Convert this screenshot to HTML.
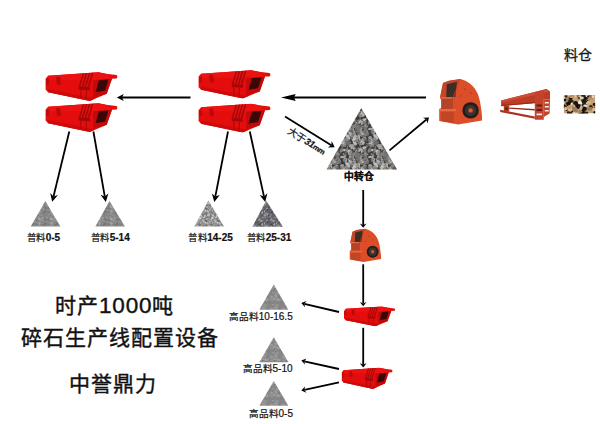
<!DOCTYPE html>
<html lang="zh-CN"><head><meta charset="utf-8">
<style>
html,body{margin:0;padding:0;background:#fff;}
body{width:600px;height:424px;position:relative;overflow:hidden;font-family:"Liberation Sans",sans-serif;color:#1a1a1a;}
svg{position:absolute;left:0;top:0;}
line{stroke:#000;stroke-width:1.8;}
.ah{fill:#000;}
.t{position:absolute;white-space:nowrap;line-height:1;}
.lb{font-size:10px;color:#111;-webkit-text-stroke:0.2px #111;}
.lb b{font-weight:normal;font-size:9.6px;}
.bb{font-weight:bold;}
.bb b{font-size:9.4px;letter-spacing:0.6px;}
.big{font-size:21px;color:#111;letter-spacing:1px;-webkit-text-stroke:0.4px #111;}
</style></head><body>
<svg width="600" height="424" viewBox="0 0 600 424">
<defs>
<symbol id="scr" viewBox="0 0 72 28" preserveAspectRatio="none">
<path d="M3,3.6L53,0.3L60.5,1.7L71,3L72.3,4.5L71.2,6.3L66.5,6.5L61.3,21L44.5,28L3,19.5L0.6,17L0.6,6.5Z" fill="#e40c0c"/>
<path d="M3,3.6L53,0.3L60.5,1.7L66.5,6.5L50,7.5L4,8Z" fill="#ec1212"/>
<path d="M3,19.5L44.5,28L50,25.5L44,24.5L3,16.5Z" fill="#cc0a0a"/>
<path d="M48,8L66.5,6.5L61.3,21L48,25Z" fill="#c20a0a"/>
<path d="M53.5,8L63,7.2L59.8,17.8L50.3,19.5Z" fill="#3c0606"/>
<path d="M37.5,1.5L39,1.4L35,13.8L33.5,13.8Z M40.5,1.3L42,1.2L38,13.9L36.5,13.9Z M43.5,1.1L45,1L41,14L39.5,14Z M46.5,0.9L48,0.8L44,14L42.5,14Z" fill="#a00808"/>
<path d="M33.5,13.8L44.5,14.5L44.5,17.5L33.5,16.8Z" fill="#a00808"/>
<path d="M35,17L36.2,17L36.2,25L35,24.7Z M40.5,17.5L41.7,17.5L41.7,26.3L40.5,26Z" fill="#b00808"/>
<path d="M11,5L15,4.8L16,12L12,12.2Z" fill="#b80a0a"/>
<path d="M1,7L4,6.5L4,12L1,12.5Z" fill="#c00a0a"/>
</symbol>
<symbol id="cru" viewBox="0 0 50 50" preserveAspectRatio="none">
<path d="M3.2,45L3.2,33L5.3,32L5.3,23.6L4.1,22.4L4.1,21.2L7,7L13,4.7L24.6,3C32,5 38.5,10 41.8,18C43.8,23 44.8,29 45.5,35.4L46,40L46,44.5L22,48.5Z" fill="#dc4e2a"/>
<path d="M7,7L13,4.7L24.2,3L15.9,22.4L4.1,22.4L4.1,21.2Z" fill="#c4462a"/>
<path d="M10.8,8.2L21,5.8L19.3,21L10.2,21Z" fill="#3e2c26"/>
<path d="M4.1,21.2L17.7,21.2L17.7,22.8L4.1,22.8Z" fill="#e8693e"/>
<path d="M5.3,22.8L16.2,22.8L16.5,33L5.3,33Z" fill="#b44428"/>
<path d="M3.5,33L20,33L20,35L3.5,35Z" fill="#e86a40"/>
<path d="M5,36L18,36L18,47L5,45Z" fill="#c04626"/>
<path d="M24.6,3L17,22.4L17,33L15.9,33L15.9,22.4Z" fill="#b84424"/>
<circle cx="34.6" cy="34.4" r="8.2" fill="#221d1b"/>
<circle cx="34.6" cy="34.4" r="5.6" fill="#3a3331"/>
<circle cx="34.6" cy="34.4" r="2.2" fill="#dc5830"/>
<circle cx="29" cy="13" r="0.8" fill="#a83a20"/><circle cx="35" cy="17" r="0.8" fill="#a83a20"/><circle cx="25" cy="20" r="0.8" fill="#a83a20"/>
</symbol>
<symbol id="fed" viewBox="0 0 58 38" preserveAspectRatio="none">
<path d="M4.1,16.6L49.5,4.9L53,7.6L53,15.2L46.8,15.2L37.8,19L4.1,22Z" fill="#bc3c26"/>
<path d="M4.1,16.6L49.5,4.9L53,7.6L6,18.2Z" fill="#cc4c34"/>
<path d="M4.1,21L37.8,18L37.8,19.3L4.1,22.2Z" fill="#962c1c"/>
<path d="M37.8,8.4L46.8,6.2L46.8,35.8L37.8,35.8Z" fill="#c2422a"/>
<path d="M46.8,15.2L53,15.2L52.6,29.5L46.8,33Z" fill="#c4442a"/>
<path d="M39.5,20.5h5.5v2h-5.5Z M39.5,25h5.5v2h-5.5Z" fill="#5a2018"/>
<path d="M39.5,29.5h5.5v1.8h-5.5Z M47.8,18h4v1.6h-4Z M47.8,22h4v1.6h-4Z M47.8,26h4v1.6h-4Z" fill="#f6eeea"/>
<path d="M6.8,22L12.2,21.6L12.2,27.8L6.8,27.2Z" fill="#b03a24"/>
<path d="M8.3,23.3h2.4v2.6h-2.4Z" fill="#5a2018"/>
<path d="M12.2,23.5L37.8,25L37.8,26.4L12.2,24.8Z" fill="#8e2c1c"/>
<path d="M3.2,25.8L37.8,32.4L37.8,34.8L3.2,28Z" fill="#a83422"/>
</symbol>
<pattern id="pg1" width="12" height="12" patternUnits="userSpaceOnUse"><rect width="12" height="12" fill="#848484"/><ellipse cx="1.6" cy="10.2" rx="1.5" ry="0.7" fill="#a4a4a4" transform="rotate(126 1.6 10.2)"/><ellipse cx="13.6" cy="10.2" rx="1.5" ry="0.7" fill="#a4a4a4" transform="rotate(126 13.6 10.2)"/><ellipse cx="5.7" cy="4.6" rx="0.9" ry="0.5" fill="#a4a4a4" transform="rotate(99 5.7 4.6)"/><ellipse cx="7.3" cy="9.2" rx="1.4" ry="0.7" fill="#7a7a7a" transform="rotate(58 7.3 9.2)"/><ellipse cx="-0.7" cy="-1.2" rx="0.6" ry="0.2" fill="#959595" transform="rotate(138 -0.7 -1.2)"/><ellipse cx="-0.7" cy="10.8" rx="0.6" ry="0.2" fill="#959595" transform="rotate(138 -0.7 10.8)"/><ellipse cx="11.3" cy="-1.2" rx="0.6" ry="0.2" fill="#959595" transform="rotate(138 11.3 -1.2)"/><ellipse cx="11.3" cy="10.8" rx="0.6" ry="0.2" fill="#959595" transform="rotate(138 11.3 10.8)"/><ellipse cx="-0.7" cy="4.6" rx="0.9" ry="0.5" fill="#7a7a7a" transform="rotate(7 -0.7 4.6)"/><ellipse cx="11.3" cy="4.6" rx="0.9" ry="0.5" fill="#7a7a7a" transform="rotate(7 11.3 4.6)"/><ellipse cx="2.7" cy="5.3" rx="1.2" ry="0.5" fill="#6e6e6e" transform="rotate(59 2.7 5.3)"/><ellipse cx="2.6" cy="5.5" rx="0.9" ry="0.3" fill="#6e6e6e" transform="rotate(142 2.6 5.5)"/><ellipse cx="1.2" cy="7.6" rx="1.5" ry="0.7" fill="#6e6e6e" transform="rotate(85 1.2 7.6)"/><ellipse cx="13.2" cy="7.6" rx="1.5" ry="0.7" fill="#6e6e6e" transform="rotate(85 13.2 7.6)"/><ellipse cx="-0.3" cy="6.0" rx="1.8" ry="1.1" fill="#9c9c9c" transform="rotate(171 -0.3 6.0)"/><ellipse cx="11.7" cy="6.0" rx="1.8" ry="1.1" fill="#9c9c9c" transform="rotate(171 11.7 6.0)"/><ellipse cx="3.6" cy="7.1" rx="1.7" ry="1.4" fill="#a4a4a4" transform="rotate(129 3.6 7.1)"/><ellipse cx="7.1" cy="0.4" rx="0.9" ry="0.7" fill="#6e6e6e" transform="rotate(106 7.1 0.4)"/><ellipse cx="7.1" cy="12.4" rx="0.9" ry="0.7" fill="#6e6e6e" transform="rotate(106 7.1 12.4)"/><ellipse cx="2.1" cy="6.6" rx="1.4" ry="1.1" fill="#959595" transform="rotate(95 2.1 6.6)"/><ellipse cx="5.3" cy="6.1" rx="1.5" ry="1.0" fill="#8a8a8a" transform="rotate(100 5.3 6.1)"/><ellipse cx="5.9" cy="0.4" rx="0.7" ry="0.5" fill="#7a7a7a" transform="rotate(157 5.9 0.4)"/><ellipse cx="5.9" cy="12.4" rx="0.7" ry="0.5" fill="#7a7a7a" transform="rotate(157 5.9 12.4)"/><ellipse cx="6.9" cy="7.8" rx="0.8" ry="0.4" fill="#9c9c9c" transform="rotate(3 6.9 7.8)"/><ellipse cx="6.5" cy="-1.7" rx="0.9" ry="0.6" fill="#8a8a8a" transform="rotate(147 6.5 -1.7)"/><ellipse cx="6.5" cy="10.3" rx="0.9" ry="0.6" fill="#8a8a8a" transform="rotate(147 6.5 10.3)"/><ellipse cx="5.5" cy="3.2" rx="1.3" ry="1.2" fill="#a4a4a4" transform="rotate(1 5.5 3.2)"/><ellipse cx="9.4" cy="9.8" rx="1.7" ry="1.3" fill="#7a7a7a" transform="rotate(33 9.4 9.8)"/><ellipse cx="9.3" cy="2.5" rx="1.7" ry="1.1" fill="#7a7a7a" transform="rotate(93 9.3 2.5)"/><ellipse cx="6.7" cy="-0.7" rx="1.1" ry="0.9" fill="#8a8a8a" transform="rotate(106 6.7 -0.7)"/><ellipse cx="6.7" cy="11.3" rx="1.1" ry="0.9" fill="#8a8a8a" transform="rotate(106 6.7 11.3)"/><ellipse cx="0.0" cy="6.5" rx="1.5" ry="0.8" fill="#959595" transform="rotate(153 0.0 6.5)"/><ellipse cx="12.0" cy="6.5" rx="1.5" ry="0.8" fill="#959595" transform="rotate(153 12.0 6.5)"/><ellipse cx="9.7" cy="7.6" rx="1.3" ry="0.5" fill="#7a7a7a" transform="rotate(23 9.7 7.6)"/><ellipse cx="9.6" cy="9.8" rx="0.9" ry="0.8" fill="#959595" transform="rotate(172 9.6 9.8)"/><ellipse cx="1.0" cy="0.2" rx="0.6" ry="0.5" fill="#8a8a8a" transform="rotate(63 1.0 0.2)"/><ellipse cx="1.0" cy="12.2" rx="0.6" ry="0.5" fill="#8a8a8a" transform="rotate(63 1.0 12.2)"/><ellipse cx="13.0" cy="0.2" rx="0.6" ry="0.5" fill="#8a8a8a" transform="rotate(63 13.0 0.2)"/><ellipse cx="13.0" cy="12.2" rx="0.6" ry="0.5" fill="#8a8a8a" transform="rotate(63 13.0 12.2)"/><ellipse cx="1.3" cy="7.5" rx="1.0" ry="0.3" fill="#8a8a8a" transform="rotate(40 1.3 7.5)"/><ellipse cx="13.3" cy="7.5" rx="1.0" ry="0.3" fill="#8a8a8a" transform="rotate(40 13.3 7.5)"/><ellipse cx="6.3" cy="2.0" rx="0.9" ry="0.7" fill="#6e6e6e" transform="rotate(116 6.3 2.0)"/><ellipse cx="3.9" cy="5.7" rx="0.6" ry="0.3" fill="#9c9c9c" transform="rotate(107 3.9 5.7)"/><ellipse cx="3.1" cy="3.0" rx="1.5" ry="1.4" fill="#a4a4a4" transform="rotate(155 3.1 3.0)"/><ellipse cx="9.8" cy="0.2" rx="0.6" ry="0.2" fill="#a4a4a4" transform="rotate(41 9.8 0.2)"/><ellipse cx="9.8" cy="12.2" rx="0.6" ry="0.2" fill="#a4a4a4" transform="rotate(41 9.8 12.2)"/><ellipse cx="8.5" cy="8.1" rx="1.3" ry="0.6" fill="#6e6e6e" transform="rotate(161 8.5 8.1)"/><ellipse cx="6.2" cy="2.7" rx="1.4" ry="0.8" fill="#8a8a8a" transform="rotate(147 6.2 2.7)"/><ellipse cx="7.9" cy="5.1" rx="1.5" ry="0.6" fill="#959595" transform="rotate(54 7.9 5.1)"/><ellipse cx="3.7" cy="-1.7" rx="1.0" ry="0.9" fill="#a4a4a4" transform="rotate(40 3.7 -1.7)"/><ellipse cx="3.7" cy="10.3" rx="1.0" ry="0.9" fill="#a4a4a4" transform="rotate(40 3.7 10.3)"/><ellipse cx="6.8" cy="1.6" rx="1.3" ry="1.1" fill="#9c9c9c" transform="rotate(151 6.8 1.6)"/><ellipse cx="6.8" cy="13.6" rx="1.3" ry="1.1" fill="#9c9c9c" transform="rotate(151 6.8 13.6)"/><ellipse cx="-0.5" cy="6.8" rx="0.8" ry="0.7" fill="#7a7a7a" transform="rotate(159 -0.5 6.8)"/><ellipse cx="11.5" cy="6.8" rx="0.8" ry="0.7" fill="#7a7a7a" transform="rotate(159 11.5 6.8)"/><ellipse cx="0.4" cy="2.4" rx="0.7" ry="0.5" fill="#7a7a7a" transform="rotate(110 0.4 2.4)"/><ellipse cx="12.4" cy="2.4" rx="0.7" ry="0.5" fill="#7a7a7a" transform="rotate(110 12.4 2.4)"/><ellipse cx="2.3" cy="1.3" rx="1.4" ry="0.7" fill="#959595" transform="rotate(127 2.3 1.3)"/><ellipse cx="2.3" cy="13.3" rx="1.4" ry="0.7" fill="#959595" transform="rotate(127 2.3 13.3)"/><ellipse cx="3.9" cy="-1.5" rx="1.7" ry="0.5" fill="#8a8a8a" transform="rotate(51 3.9 -1.5)"/><ellipse cx="3.9" cy="10.5" rx="1.7" ry="0.5" fill="#8a8a8a" transform="rotate(51 3.9 10.5)"/><ellipse cx="9.7" cy="6.8" rx="0.8" ry="0.4" fill="#6e6e6e" transform="rotate(68 9.7 6.8)"/><ellipse cx="1.2" cy="4.6" rx="1.3" ry="1.1" fill="#7a7a7a" transform="rotate(175 1.2 4.6)"/><ellipse cx="13.2" cy="4.6" rx="1.3" ry="1.1" fill="#7a7a7a" transform="rotate(175 13.2 4.6)"/><ellipse cx="5.8" cy="-0.2" rx="0.9" ry="0.7" fill="#9c9c9c" transform="rotate(21 5.8 -0.2)"/><ellipse cx="5.8" cy="11.8" rx="0.9" ry="0.7" fill="#9c9c9c" transform="rotate(21 5.8 11.8)"/><ellipse cx="2.0" cy="-1.1" rx="0.9" ry="0.7" fill="#7a7a7a" transform="rotate(153 2.0 -1.1)"/><ellipse cx="2.0" cy="10.9" rx="0.9" ry="0.7" fill="#7a7a7a" transform="rotate(153 2.0 10.9)"/><ellipse cx="10.1" cy="4.4" rx="1.0" ry="0.5" fill="#6e6e6e" transform="rotate(154 10.1 4.4)"/><ellipse cx="-1.4" cy="1.6" rx="1.3" ry="0.5" fill="#a4a4a4" transform="rotate(10 -1.4 1.6)"/><ellipse cx="-1.4" cy="13.6" rx="1.3" ry="0.5" fill="#a4a4a4" transform="rotate(10 -1.4 13.6)"/><ellipse cx="10.6" cy="1.6" rx="1.3" ry="0.5" fill="#a4a4a4" transform="rotate(10 10.6 1.6)"/><ellipse cx="10.6" cy="13.6" rx="1.3" ry="0.5" fill="#a4a4a4" transform="rotate(10 10.6 13.6)"/></pattern><pattern id="pg3" width="12" height="12" patternUnits="userSpaceOnUse"><rect width="12" height="12" fill="#8c8c8c"/><ellipse cx="2.9" cy="6.5" rx="0.7" ry="0.5" fill="#d8d8d8" transform="rotate(160 2.9 6.5)"/><ellipse cx="0.8" cy="0.2" rx="1.1" ry="0.7" fill="#c8c8c8" transform="rotate(59 0.8 0.2)"/><ellipse cx="0.8" cy="12.2" rx="1.1" ry="0.7" fill="#c8c8c8" transform="rotate(59 0.8 12.2)"/><ellipse cx="12.8" cy="0.2" rx="1.1" ry="0.7" fill="#c8c8c8" transform="rotate(59 12.8 0.2)"/><ellipse cx="12.8" cy="12.2" rx="1.1" ry="0.7" fill="#c8c8c8" transform="rotate(59 12.8 12.2)"/><ellipse cx="-0.1" cy="5.6" rx="1.1" ry="0.8" fill="#c8c8c8" transform="rotate(163 -0.1 5.6)"/><ellipse cx="11.9" cy="5.6" rx="1.1" ry="0.8" fill="#c8c8c8" transform="rotate(163 11.9 5.6)"/><ellipse cx="2.8" cy="1.8" rx="1.1" ry="0.8" fill="#5a5a5a" transform="rotate(3 2.8 1.8)"/><ellipse cx="9.3" cy="1.9" rx="1.2" ry="0.6" fill="#9a9a9a" transform="rotate(7 9.3 1.9)"/><ellipse cx="5.7" cy="8.6" rx="1.1" ry="0.9" fill="#727272" transform="rotate(109 5.7 8.6)"/><ellipse cx="8.7" cy="6.9" rx="1.2" ry="0.7" fill="#b8b8b8" transform="rotate(93 8.7 6.9)"/><ellipse cx="0.4" cy="5.9" rx="0.6" ry="0.5" fill="#9a9a9a" transform="rotate(160 0.4 5.9)"/><ellipse cx="12.4" cy="5.9" rx="0.6" ry="0.5" fill="#9a9a9a" transform="rotate(160 12.4 5.9)"/><ellipse cx="5.1" cy="10.0" rx="0.9" ry="0.6" fill="#d8d8d8" transform="rotate(104 5.1 10.0)"/><ellipse cx="2.8" cy="4.0" rx="1.1" ry="0.6" fill="#d8d8d8" transform="rotate(71 2.8 4.0)"/><ellipse cx="8.1" cy="2.0" rx="1.1" ry="1.0" fill="#d8d8d8" transform="rotate(146 8.1 2.0)"/><ellipse cx="1.2" cy="7.9" rx="0.9" ry="0.9" fill="#9a9a9a" transform="rotate(68 1.2 7.9)"/><ellipse cx="1.5" cy="5.8" rx="0.9" ry="0.7" fill="#b8b8b8" transform="rotate(88 1.5 5.8)"/><ellipse cx="4.9" cy="1.8" rx="0.6" ry="0.5" fill="#b8b8b8" transform="rotate(30 4.9 1.8)"/><ellipse cx="7.3" cy="9.1" rx="0.7" ry="0.5" fill="#9a9a9a" transform="rotate(141 7.3 9.1)"/><ellipse cx="6.1" cy="-0.0" rx="0.6" ry="0.3" fill="#d8d8d8" transform="rotate(153 6.1 -0.0)"/><ellipse cx="6.1" cy="12.0" rx="0.6" ry="0.3" fill="#d8d8d8" transform="rotate(153 6.1 12.0)"/><ellipse cx="0.4" cy="2.4" rx="0.7" ry="0.6" fill="#5a5a5a" transform="rotate(39 0.4 2.4)"/><ellipse cx="12.4" cy="2.4" rx="0.7" ry="0.6" fill="#5a5a5a" transform="rotate(39 12.4 2.4)"/><ellipse cx="0.5" cy="10.4" rx="0.7" ry="0.6" fill="#727272" transform="rotate(96 0.5 10.4)"/><ellipse cx="12.5" cy="10.4" rx="0.7" ry="0.6" fill="#727272" transform="rotate(96 12.5 10.4)"/><ellipse cx="5.5" cy="6.2" rx="0.9" ry="0.7" fill="#b8b8b8" transform="rotate(143 5.5 6.2)"/><ellipse cx="7.4" cy="-0.7" rx="0.8" ry="0.6" fill="#9a9a9a" transform="rotate(60 7.4 -0.7)"/><ellipse cx="7.4" cy="11.3" rx="0.8" ry="0.6" fill="#9a9a9a" transform="rotate(60 7.4 11.3)"/><ellipse cx="5.2" cy="3.1" rx="0.6" ry="0.4" fill="#d8d8d8" transform="rotate(106 5.2 3.1)"/><ellipse cx="3.8" cy="4.5" rx="0.9" ry="0.5" fill="#5a5a5a" transform="rotate(162 3.8 4.5)"/><ellipse cx="4.0" cy="4.2" rx="1.1" ry="0.9" fill="#5a5a5a" transform="rotate(71 4.0 4.2)"/><ellipse cx="5.9" cy="7.1" rx="1.2" ry="0.6" fill="#9a9a9a" transform="rotate(94 5.9 7.1)"/><ellipse cx="7.5" cy="3.6" rx="0.9" ry="0.5" fill="#9a9a9a" transform="rotate(47 7.5 3.6)"/><ellipse cx="9.1" cy="10.1" rx="0.6" ry="0.5" fill="#b8b8b8" transform="rotate(26 9.1 10.1)"/><ellipse cx="-0.3" cy="8.2" rx="0.5" ry="0.4" fill="#9a9a9a" transform="rotate(167 -0.3 8.2)"/><ellipse cx="11.7" cy="8.2" rx="0.5" ry="0.4" fill="#9a9a9a" transform="rotate(167 11.7 8.2)"/><ellipse cx="2.9" cy="2.2" rx="0.7" ry="0.6" fill="#d8d8d8" transform="rotate(26 2.9 2.2)"/><ellipse cx="3.9" cy="4.0" rx="1.1" ry="0.7" fill="#b8b8b8" transform="rotate(43 3.9 4.0)"/><ellipse cx="4.0" cy="7.8" rx="1.1" ry="0.8" fill="#b8b8b8" transform="rotate(57 4.0 7.8)"/><ellipse cx="0.4" cy="-0.5" rx="0.7" ry="0.6" fill="#c8c8c8" transform="rotate(147 0.4 -0.5)"/><ellipse cx="0.4" cy="11.5" rx="0.7" ry="0.6" fill="#c8c8c8" transform="rotate(147 0.4 11.5)"/><ellipse cx="12.4" cy="-0.5" rx="0.7" ry="0.6" fill="#c8c8c8" transform="rotate(147 12.4 -0.5)"/><ellipse cx="12.4" cy="11.5" rx="0.7" ry="0.6" fill="#c8c8c8" transform="rotate(147 12.4 11.5)"/><ellipse cx="10.4" cy="4.1" rx="1.1" ry="0.6" fill="#9a9a9a" transform="rotate(158 10.4 4.1)"/><ellipse cx="7.1" cy="5.1" rx="0.8" ry="0.7" fill="#9a9a9a" transform="rotate(118 7.1 5.1)"/><ellipse cx="7.6" cy="3.5" rx="0.9" ry="0.4" fill="#c8c8c8" transform="rotate(105 7.6 3.5)"/><ellipse cx="2.4" cy="5.7" rx="1.1" ry="0.8" fill="#727272" transform="rotate(130 2.4 5.7)"/><ellipse cx="6.7" cy="-0.2" rx="1.0" ry="0.5" fill="#5a5a5a" transform="rotate(116 6.7 -0.2)"/><ellipse cx="6.7" cy="11.8" rx="1.0" ry="0.5" fill="#5a5a5a" transform="rotate(116 6.7 11.8)"/><ellipse cx="9.0" cy="-0.4" rx="0.8" ry="0.8" fill="#d8d8d8" transform="rotate(17 9.0 -0.4)"/><ellipse cx="9.0" cy="11.6" rx="0.8" ry="0.8" fill="#d8d8d8" transform="rotate(17 9.0 11.6)"/><ellipse cx="-0.3" cy="1.4" rx="0.6" ry="0.3" fill="#d8d8d8" transform="rotate(177 -0.3 1.4)"/><ellipse cx="11.7" cy="1.4" rx="0.6" ry="0.3" fill="#d8d8d8" transform="rotate(177 11.7 1.4)"/><ellipse cx="-0.9" cy="10.8" rx="1.1" ry="0.9" fill="#727272" transform="rotate(3 -0.9 10.8)"/><ellipse cx="11.1" cy="10.8" rx="1.1" ry="0.9" fill="#727272" transform="rotate(3 11.1 10.8)"/><ellipse cx="8.9" cy="2.1" rx="0.6" ry="0.5" fill="#d8d8d8" transform="rotate(134 8.9 2.1)"/><ellipse cx="5.0" cy="-0.7" rx="0.9" ry="0.6" fill="#d8d8d8" transform="rotate(64 5.0 -0.7)"/><ellipse cx="5.0" cy="11.3" rx="0.9" ry="0.6" fill="#d8d8d8" transform="rotate(64 5.0 11.3)"/><ellipse cx="5.7" cy="9.4" rx="0.7" ry="0.4" fill="#b8b8b8" transform="rotate(136 5.7 9.4)"/><ellipse cx="2.1" cy="9.5" rx="1.1" ry="1.0" fill="#727272" transform="rotate(1 2.1 9.5)"/><ellipse cx="7.5" cy="10.4" rx="0.4" ry="0.3" fill="#d8d8d8" transform="rotate(68 7.5 10.4)"/><ellipse cx="6.3" cy="5.1" rx="0.8" ry="0.7" fill="#b8b8b8" transform="rotate(0 6.3 5.1)"/><ellipse cx="9.3" cy="0.6" rx="0.4" ry="0.3" fill="#5a5a5a" transform="rotate(8 9.3 0.6)"/><ellipse cx="9.3" cy="12.6" rx="0.4" ry="0.3" fill="#5a5a5a" transform="rotate(8 9.3 12.6)"/><ellipse cx="1.0" cy="6.0" rx="0.7" ry="0.4" fill="#727272" transform="rotate(89 1.0 6.0)"/><ellipse cx="13.0" cy="6.0" rx="0.7" ry="0.4" fill="#727272" transform="rotate(89 13.0 6.0)"/><ellipse cx="7.8" cy="7.0" rx="0.7" ry="0.4" fill="#727272" transform="rotate(84 7.8 7.0)"/><ellipse cx="1.5" cy="6.7" rx="1.0" ry="0.7" fill="#d8d8d8" transform="rotate(20 1.5 6.7)"/><ellipse cx="2.1" cy="4.5" rx="0.9" ry="0.8" fill="#5a5a5a" transform="rotate(97 2.1 4.5)"/><ellipse cx="9.6" cy="7.5" rx="0.7" ry="0.5" fill="#5a5a5a" transform="rotate(127 9.6 7.5)"/><ellipse cx="3.8" cy="-0.6" rx="0.7" ry="0.4" fill="#d8d8d8" transform="rotate(55 3.8 -0.6)"/><ellipse cx="3.8" cy="11.4" rx="0.7" ry="0.4" fill="#d8d8d8" transform="rotate(55 3.8 11.4)"/><ellipse cx="3.2" cy="7.1" rx="1.0" ry="0.6" fill="#b8b8b8" transform="rotate(33 3.2 7.1)"/><ellipse cx="-0.8" cy="4.5" rx="1.1" ry="1.0" fill="#b8b8b8" transform="rotate(67 -0.8 4.5)"/><ellipse cx="11.2" cy="4.5" rx="1.1" ry="1.0" fill="#b8b8b8" transform="rotate(67 11.2 4.5)"/><ellipse cx="5.6" cy="1.5" rx="1.1" ry="0.8" fill="#727272" transform="rotate(135 5.6 1.5)"/><ellipse cx="8.0" cy="8.8" rx="0.9" ry="0.5" fill="#5a5a5a" transform="rotate(150 8.0 8.8)"/><ellipse cx="0.1" cy="1.7" rx="1.0" ry="0.5" fill="#d8d8d8" transform="rotate(23 0.1 1.7)"/><ellipse cx="12.1" cy="1.7" rx="1.0" ry="0.5" fill="#d8d8d8" transform="rotate(23 12.1 1.7)"/><ellipse cx="1.2" cy="10.6" rx="0.5" ry="0.3" fill="#b8b8b8" transform="rotate(31 1.2 10.6)"/><ellipse cx="13.2" cy="10.6" rx="0.5" ry="0.3" fill="#b8b8b8" transform="rotate(31 13.2 10.6)"/><ellipse cx="10.1" cy="8.1" rx="1.1" ry="1.0" fill="#9a9a9a" transform="rotate(148 10.1 8.1)"/><ellipse cx="9.6" cy="0.4" rx="1.0" ry="0.7" fill="#b8b8b8" transform="rotate(61 9.6 0.4)"/><ellipse cx="9.6" cy="12.4" rx="1.0" ry="0.7" fill="#b8b8b8" transform="rotate(61 9.6 12.4)"/></pattern><pattern id="pg4" width="12" height="12" patternUnits="userSpaceOnUse"><rect width="12" height="12" fill="#606066"/><ellipse cx="2.8" cy="1.2" rx="0.7" ry="0.4" fill="#7c7c84" transform="rotate(17 2.8 1.2)"/><ellipse cx="4.8" cy="-1.0" rx="1.0" ry="0.9" fill="#444448" transform="rotate(56 4.8 -1.0)"/><ellipse cx="4.8" cy="11.0" rx="1.0" ry="0.9" fill="#444448" transform="rotate(56 4.8 11.0)"/><ellipse cx="6.4" cy="3.3" rx="0.5" ry="0.3" fill="#7c7c84" transform="rotate(54 6.4 3.3)"/><ellipse cx="9.9" cy="9.7" rx="1.0" ry="0.6" fill="#66666c" transform="rotate(79 9.9 9.7)"/><ellipse cx="7.5" cy="8.8" rx="1.1" ry="1.0" fill="#444448" transform="rotate(22 7.5 8.8)"/><ellipse cx="4.0" cy="4.7" rx="0.6" ry="0.4" fill="#7c7c84" transform="rotate(71 4.0 4.7)"/><ellipse cx="-0.7" cy="9.8" rx="1.2" ry="1.0" fill="#66666c" transform="rotate(1 -0.7 9.8)"/><ellipse cx="11.3" cy="9.8" rx="1.2" ry="1.0" fill="#66666c" transform="rotate(1 11.3 9.8)"/><ellipse cx="6.9" cy="10.6" rx="1.1" ry="0.8" fill="#9c9ca2" transform="rotate(105 6.9 10.6)"/><ellipse cx="7.2" cy="5.2" rx="0.5" ry="0.3" fill="#7c7c84" transform="rotate(11 7.2 5.2)"/><ellipse cx="0.6" cy="7.5" rx="0.6" ry="0.5" fill="#b4b4b8" transform="rotate(120 0.6 7.5)"/><ellipse cx="12.6" cy="7.5" rx="0.6" ry="0.5" fill="#b4b4b8" transform="rotate(120 12.6 7.5)"/><ellipse cx="4.1" cy="-0.0" rx="0.6" ry="0.4" fill="#b4b4b8" transform="rotate(51 4.1 -0.0)"/><ellipse cx="4.1" cy="12.0" rx="0.6" ry="0.4" fill="#b4b4b8" transform="rotate(51 4.1 12.0)"/><ellipse cx="7.6" cy="3.3" rx="0.7" ry="0.6" fill="#b4b4b8" transform="rotate(82 7.6 3.3)"/><ellipse cx="6.7" cy="-1.1" rx="0.5" ry="0.3" fill="#66666c" transform="rotate(58 6.7 -1.1)"/><ellipse cx="6.7" cy="10.9" rx="0.5" ry="0.3" fill="#66666c" transform="rotate(58 6.7 10.9)"/><ellipse cx="9.2" cy="7.4" rx="0.6" ry="0.4" fill="#66666c" transform="rotate(45 9.2 7.4)"/><ellipse cx="5.5" cy="0.5" rx="1.0" ry="0.9" fill="#b4b4b8" transform="rotate(73 5.5 0.5)"/><ellipse cx="5.5" cy="12.5" rx="1.0" ry="0.9" fill="#b4b4b8" transform="rotate(73 5.5 12.5)"/><ellipse cx="8.1" cy="3.9" rx="0.7" ry="0.4" fill="#b4b4b8" transform="rotate(39 8.1 3.9)"/><ellipse cx="4.9" cy="-0.7" rx="0.9" ry="0.8" fill="#444448" transform="rotate(75 4.9 -0.7)"/><ellipse cx="4.9" cy="11.3" rx="0.9" ry="0.8" fill="#444448" transform="rotate(75 4.9 11.3)"/><ellipse cx="2.3" cy="5.3" rx="0.5" ry="0.3" fill="#66666c" transform="rotate(40 2.3 5.3)"/><ellipse cx="6.9" cy="4.4" rx="0.8" ry="0.5" fill="#66666c" transform="rotate(92 6.9 4.4)"/><ellipse cx="6.9" cy="5.3" rx="0.6" ry="0.5" fill="#7c7c84" transform="rotate(29 6.9 5.3)"/><ellipse cx="0.7" cy="8.8" rx="0.9" ry="0.8" fill="#7c7c84" transform="rotate(155 0.7 8.8)"/><ellipse cx="12.7" cy="8.8" rx="0.9" ry="0.8" fill="#7c7c84" transform="rotate(155 12.7 8.8)"/><ellipse cx="6.6" cy="7.0" rx="0.7" ry="0.3" fill="#66666c" transform="rotate(135 6.6 7.0)"/><ellipse cx="9.3" cy="4.9" rx="1.2" ry="0.9" fill="#9c9ca2" transform="rotate(61 9.3 4.9)"/><ellipse cx="4.9" cy="0.4" rx="0.7" ry="0.5" fill="#8c8c92" transform="rotate(109 4.9 0.4)"/><ellipse cx="4.9" cy="12.4" rx="0.7" ry="0.5" fill="#8c8c92" transform="rotate(109 4.9 12.4)"/><ellipse cx="6.0" cy="0.4" rx="0.6" ry="0.4" fill="#8c8c92" transform="rotate(53 6.0 0.4)"/><ellipse cx="6.0" cy="12.4" rx="0.6" ry="0.4" fill="#8c8c92" transform="rotate(53 6.0 12.4)"/><ellipse cx="5.0" cy="3.1" rx="0.7" ry="0.6" fill="#444448" transform="rotate(80 5.0 3.1)"/><ellipse cx="1.4" cy="6.8" rx="1.2" ry="0.9" fill="#9c9ca2" transform="rotate(10 1.4 6.8)"/><ellipse cx="4.6" cy="5.2" rx="1.1" ry="0.9" fill="#66666c" transform="rotate(42 4.6 5.2)"/><ellipse cx="3.6" cy="5.7" rx="1.1" ry="0.7" fill="#444448" transform="rotate(107 3.6 5.7)"/><ellipse cx="2.6" cy="9.6" rx="1.0" ry="0.7" fill="#9c9ca2" transform="rotate(100 2.6 9.6)"/><ellipse cx="0.9" cy="-0.3" rx="1.2" ry="0.9" fill="#9c9ca2" transform="rotate(11 0.9 -0.3)"/><ellipse cx="0.9" cy="11.7" rx="1.2" ry="0.9" fill="#9c9ca2" transform="rotate(11 0.9 11.7)"/><ellipse cx="12.9" cy="-0.3" rx="1.2" ry="0.9" fill="#9c9ca2" transform="rotate(11 12.9 -0.3)"/><ellipse cx="12.9" cy="11.7" rx="1.2" ry="0.9" fill="#9c9ca2" transform="rotate(11 12.9 11.7)"/><ellipse cx="10.8" cy="1.5" rx="1.2" ry="0.9" fill="#8c8c92" transform="rotate(15 10.8 1.5)"/><ellipse cx="8.3" cy="5.6" rx="0.8" ry="0.5" fill="#8c8c92" transform="rotate(99 8.3 5.6)"/><ellipse cx="9.6" cy="2.5" rx="0.5" ry="0.4" fill="#7c7c84" transform="rotate(65 9.6 2.5)"/><ellipse cx="4.7" cy="9.2" rx="0.7" ry="0.4" fill="#8c8c92" transform="rotate(13 4.7 9.2)"/><ellipse cx="1.9" cy="7.3" rx="1.1" ry="0.8" fill="#444448" transform="rotate(120 1.9 7.3)"/><ellipse cx="5.3" cy="0.9" rx="1.0" ry="0.5" fill="#66666c" transform="rotate(143 5.3 0.9)"/><ellipse cx="5.3" cy="12.9" rx="1.0" ry="0.5" fill="#66666c" transform="rotate(143 5.3 12.9)"/><ellipse cx="7.3" cy="1.7" rx="0.7" ry="0.6" fill="#7c7c84" transform="rotate(133 7.3 1.7)"/><ellipse cx="3.6" cy="4.2" rx="0.5" ry="0.4" fill="#9c9ca2" transform="rotate(116 3.6 4.2)"/><ellipse cx="2.5" cy="-0.3" rx="0.7" ry="0.6" fill="#7c7c84" transform="rotate(102 2.5 -0.3)"/><ellipse cx="2.5" cy="11.7" rx="0.7" ry="0.6" fill="#7c7c84" transform="rotate(102 2.5 11.7)"/><ellipse cx="0.9" cy="-1.0" rx="1.0" ry="0.7" fill="#9c9ca2" transform="rotate(111 0.9 -1.0)"/><ellipse cx="0.9" cy="11.0" rx="1.0" ry="0.7" fill="#9c9ca2" transform="rotate(111 0.9 11.0)"/><ellipse cx="12.9" cy="-1.0" rx="1.0" ry="0.7" fill="#9c9ca2" transform="rotate(111 12.9 -1.0)"/><ellipse cx="12.9" cy="11.0" rx="1.0" ry="0.7" fill="#9c9ca2" transform="rotate(111 12.9 11.0)"/><ellipse cx="10.3" cy="9.3" rx="0.5" ry="0.4" fill="#b4b4b8" transform="rotate(50 10.3 9.3)"/><ellipse cx="3.6" cy="10.0" rx="0.7" ry="0.6" fill="#66666c" transform="rotate(42 3.6 10.0)"/><ellipse cx="10.5" cy="2.1" rx="0.5" ry="0.4" fill="#66666c" transform="rotate(86 10.5 2.1)"/><ellipse cx="6.5" cy="-1.2" rx="1.0" ry="0.5" fill="#7c7c84" transform="rotate(79 6.5 -1.2)"/><ellipse cx="6.5" cy="10.8" rx="1.0" ry="0.5" fill="#7c7c84" transform="rotate(79 6.5 10.8)"/><ellipse cx="6.5" cy="5.8" rx="1.0" ry="0.7" fill="#444448" transform="rotate(19 6.5 5.8)"/><ellipse cx="2.9" cy="10.2" rx="0.7" ry="0.6" fill="#7c7c84" transform="rotate(160 2.9 10.2)"/><ellipse cx="8.1" cy="7.3" rx="0.7" ry="0.6" fill="#444448" transform="rotate(119 8.1 7.3)"/><ellipse cx="3.7" cy="10.4" rx="1.0" ry="0.8" fill="#9c9ca2" transform="rotate(113 3.7 10.4)"/><ellipse cx="1.7" cy="9.3" rx="0.7" ry="0.6" fill="#9c9ca2" transform="rotate(34 1.7 9.3)"/><ellipse cx="1.0" cy="1.7" rx="1.0" ry="0.6" fill="#8c8c92" transform="rotate(95 1.0 1.7)"/><ellipse cx="13.0" cy="1.7" rx="1.0" ry="0.6" fill="#8c8c92" transform="rotate(95 13.0 1.7)"/><ellipse cx="6.9" cy="4.2" rx="0.9" ry="0.5" fill="#b4b4b8" transform="rotate(103 6.9 4.2)"/><ellipse cx="-0.8" cy="2.2" rx="0.9" ry="0.6" fill="#7c7c84" transform="rotate(76 -0.8 2.2)"/><ellipse cx="11.2" cy="2.2" rx="0.9" ry="0.6" fill="#7c7c84" transform="rotate(76 11.2 2.2)"/><ellipse cx="7.2" cy="6.3" rx="1.0" ry="0.5" fill="#7c7c84" transform="rotate(91 7.2 6.3)"/><ellipse cx="1.9" cy="7.0" rx="0.8" ry="0.6" fill="#7c7c84" transform="rotate(19 1.9 7.0)"/><ellipse cx="2.1" cy="5.7" rx="1.1" ry="0.7" fill="#66666c" transform="rotate(169 2.1 5.7)"/><ellipse cx="10.2" cy="8.3" rx="1.1" ry="0.7" fill="#b4b4b8" transform="rotate(125 10.2 8.3)"/><ellipse cx="2.7" cy="4.4" rx="1.0" ry="0.7" fill="#9c9ca2" transform="rotate(135 2.7 4.4)"/><ellipse cx="10.8" cy="4.8" rx="0.7" ry="0.6" fill="#9c9ca2" transform="rotate(72 10.8 4.8)"/><ellipse cx="4.9" cy="0.2" rx="0.5" ry="0.4" fill="#444448" transform="rotate(177 4.9 0.2)"/><ellipse cx="4.9" cy="12.2" rx="0.5" ry="0.4" fill="#444448" transform="rotate(177 4.9 12.2)"/></pattern><pattern id="pg5" width="12" height="12" patternUnits="userSpaceOnUse"><rect width="12" height="12" fill="#858585"/><ellipse cx="7.5" cy="8.9" rx="1.6" ry="1.4" fill="#7a7a7a" transform="rotate(166 7.5 8.9)"/><ellipse cx="0.3" cy="5.6" rx="1.7" ry="1.3" fill="#929292" transform="rotate(40 0.3 5.6)"/><ellipse cx="12.3" cy="5.6" rx="1.7" ry="1.3" fill="#929292" transform="rotate(40 12.3 5.6)"/><ellipse cx="4.5" cy="-1.6" rx="1.1" ry="0.4" fill="#929292" transform="rotate(63 4.5 -1.6)"/><ellipse cx="4.5" cy="10.4" rx="1.1" ry="0.4" fill="#929292" transform="rotate(63 4.5 10.4)"/><ellipse cx="8.8" cy="4.9" rx="0.8" ry="0.7" fill="#9a9a9a" transform="rotate(99 8.8 4.9)"/><ellipse cx="9.1" cy="0.9" rx="1.3" ry="0.8" fill="#929292" transform="rotate(33 9.1 0.9)"/><ellipse cx="9.1" cy="12.9" rx="1.3" ry="0.8" fill="#929292" transform="rotate(33 9.1 12.9)"/><ellipse cx="-0.3" cy="0.1" rx="1.5" ry="1.4" fill="#9a9a9a" transform="rotate(42 -0.3 0.1)"/><ellipse cx="-0.3" cy="12.1" rx="1.5" ry="1.4" fill="#9a9a9a" transform="rotate(42 -0.3 12.1)"/><ellipse cx="11.7" cy="0.1" rx="1.5" ry="1.4" fill="#9a9a9a" transform="rotate(42 11.7 0.1)"/><ellipse cx="11.7" cy="12.1" rx="1.5" ry="1.4" fill="#9a9a9a" transform="rotate(42 11.7 12.1)"/><ellipse cx="3.5" cy="-0.5" rx="1.2" ry="0.9" fill="#9a9a9a" transform="rotate(52 3.5 -0.5)"/><ellipse cx="3.5" cy="11.5" rx="1.2" ry="0.9" fill="#9a9a9a" transform="rotate(52 3.5 11.5)"/><ellipse cx="-0.7" cy="8.3" rx="1.8" ry="1.6" fill="#929292" transform="rotate(76 -0.7 8.3)"/><ellipse cx="11.3" cy="8.3" rx="1.8" ry="1.6" fill="#929292" transform="rotate(76 11.3 8.3)"/><ellipse cx="4.3" cy="2.0" rx="0.8" ry="0.3" fill="#7a7a7a" transform="rotate(77 4.3 2.0)"/><ellipse cx="7.0" cy="7.2" rx="1.4" ry="0.5" fill="#8a8a8a" transform="rotate(90 7.0 7.2)"/><ellipse cx="5.8" cy="3.8" rx="1.2" ry="0.9" fill="#8a8a8a" transform="rotate(14 5.8 3.8)"/><ellipse cx="-0.3" cy="0.3" rx="1.5" ry="1.3" fill="#7a7a7a" transform="rotate(4 -0.3 0.3)"/><ellipse cx="-0.3" cy="12.3" rx="1.5" ry="1.3" fill="#7a7a7a" transform="rotate(4 -0.3 12.3)"/><ellipse cx="11.7" cy="0.3" rx="1.5" ry="1.3" fill="#7a7a7a" transform="rotate(4 11.7 0.3)"/><ellipse cx="11.7" cy="12.3" rx="1.5" ry="1.3" fill="#7a7a7a" transform="rotate(4 11.7 12.3)"/><ellipse cx="9.5" cy="4.4" rx="1.3" ry="0.4" fill="#9a9a9a" transform="rotate(11 9.5 4.4)"/><ellipse cx="7.5" cy="-0.5" rx="0.7" ry="0.3" fill="#8a8a8a" transform="rotate(118 7.5 -0.5)"/><ellipse cx="7.5" cy="11.5" rx="0.7" ry="0.3" fill="#8a8a8a" transform="rotate(118 7.5 11.5)"/><ellipse cx="6.1" cy="-1.3" rx="0.9" ry="0.5" fill="#8a8a8a" transform="rotate(150 6.1 -1.3)"/><ellipse cx="6.1" cy="10.7" rx="0.9" ry="0.5" fill="#8a8a8a" transform="rotate(150 6.1 10.7)"/><ellipse cx="-1.7" cy="0.4" rx="1.7" ry="0.6" fill="#7a7a7a" transform="rotate(87 -1.7 0.4)"/><ellipse cx="-1.7" cy="12.4" rx="1.7" ry="0.6" fill="#7a7a7a" transform="rotate(87 -1.7 12.4)"/><ellipse cx="10.3" cy="0.4" rx="1.7" ry="0.6" fill="#7a7a7a" transform="rotate(87 10.3 0.4)"/><ellipse cx="10.3" cy="12.4" rx="1.7" ry="0.6" fill="#7a7a7a" transform="rotate(87 10.3 12.4)"/><ellipse cx="7.3" cy="-1.0" rx="1.0" ry="0.9" fill="#929292" transform="rotate(139 7.3 -1.0)"/><ellipse cx="7.3" cy="11.0" rx="1.0" ry="0.9" fill="#929292" transform="rotate(139 7.3 11.0)"/><ellipse cx="3.7" cy="3.8" rx="0.8" ry="0.3" fill="#8a8a8a" transform="rotate(38 3.7 3.8)"/><ellipse cx="-0.0" cy="1.9" rx="0.7" ry="0.6" fill="#a2a2a2" transform="rotate(136 -0.0 1.9)"/><ellipse cx="12.0" cy="1.9" rx="0.7" ry="0.6" fill="#a2a2a2" transform="rotate(136 12.0 1.9)"/><ellipse cx="0.4" cy="8.9" rx="1.0" ry="0.5" fill="#a2a2a2" transform="rotate(166 0.4 8.9)"/><ellipse cx="12.4" cy="8.9" rx="1.0" ry="0.5" fill="#a2a2a2" transform="rotate(166 12.4 8.9)"/><ellipse cx="1.7" cy="-0.3" rx="1.4" ry="1.1" fill="#9a9a9a" transform="rotate(85 1.7 -0.3)"/><ellipse cx="1.7" cy="11.7" rx="1.4" ry="1.1" fill="#9a9a9a" transform="rotate(85 1.7 11.7)"/><ellipse cx="13.7" cy="-0.3" rx="1.4" ry="1.1" fill="#9a9a9a" transform="rotate(85 13.7 -0.3)"/><ellipse cx="13.7" cy="11.7" rx="1.4" ry="1.1" fill="#9a9a9a" transform="rotate(85 13.7 11.7)"/><ellipse cx="1.6" cy="8.8" rx="1.7" ry="1.2" fill="#929292" transform="rotate(105 1.6 8.8)"/><ellipse cx="13.6" cy="8.8" rx="1.7" ry="1.2" fill="#929292" transform="rotate(105 13.6 8.8)"/><ellipse cx="2.0" cy="4.5" rx="0.7" ry="0.4" fill="#a2a2a2" transform="rotate(36 2.0 4.5)"/><ellipse cx="-0.9" cy="7.4" rx="0.8" ry="0.5" fill="#8a8a8a" transform="rotate(124 -0.9 7.4)"/><ellipse cx="11.1" cy="7.4" rx="0.8" ry="0.5" fill="#8a8a8a" transform="rotate(124 11.1 7.4)"/><ellipse cx="5.7" cy="3.5" rx="1.1" ry="0.4" fill="#7a7a7a" transform="rotate(96 5.7 3.5)"/><ellipse cx="-0.5" cy="7.5" rx="1.2" ry="0.6" fill="#a2a2a2" transform="rotate(22 -0.5 7.5)"/><ellipse cx="11.5" cy="7.5" rx="1.2" ry="0.6" fill="#a2a2a2" transform="rotate(22 11.5 7.5)"/><ellipse cx="3.3" cy="9.4" rx="1.6" ry="0.9" fill="#7a7a7a" transform="rotate(91 3.3 9.4)"/><ellipse cx="8.0" cy="9.1" rx="1.0" ry="0.8" fill="#a2a2a2" transform="rotate(71 8.0 9.1)"/><ellipse cx="3.2" cy="-0.2" rx="1.5" ry="1.3" fill="#9a9a9a" transform="rotate(87 3.2 -0.2)"/><ellipse cx="3.2" cy="11.8" rx="1.5" ry="1.3" fill="#9a9a9a" transform="rotate(87 3.2 11.8)"/><ellipse cx="7.0" cy="0.1" rx="1.3" ry="0.6" fill="#8a8a8a" transform="rotate(171 7.0 0.1)"/><ellipse cx="7.0" cy="12.1" rx="1.3" ry="0.6" fill="#8a8a8a" transform="rotate(171 7.0 12.1)"/><ellipse cx="5.6" cy="9.8" rx="1.4" ry="1.1" fill="#8a8a8a" transform="rotate(89 5.6 9.8)"/><ellipse cx="7.7" cy="8.9" rx="1.6" ry="0.8" fill="#a2a2a2" transform="rotate(44 7.7 8.9)"/><ellipse cx="-0.3" cy="-0.5" rx="1.2" ry="0.8" fill="#9a9a9a" transform="rotate(42 -0.3 -0.5)"/><ellipse cx="-0.3" cy="11.5" rx="1.2" ry="0.8" fill="#9a9a9a" transform="rotate(42 -0.3 11.5)"/><ellipse cx="11.7" cy="-0.5" rx="1.2" ry="0.8" fill="#9a9a9a" transform="rotate(42 11.7 -0.5)"/><ellipse cx="11.7" cy="11.5" rx="1.2" ry="0.8" fill="#9a9a9a" transform="rotate(42 11.7 11.5)"/><ellipse cx="10.0" cy="-0.8" rx="1.2" ry="0.9" fill="#a2a2a2" transform="rotate(171 10.0 -0.8)"/><ellipse cx="10.0" cy="11.2" rx="1.2" ry="0.9" fill="#a2a2a2" transform="rotate(171 10.0 11.2)"/><ellipse cx="2.1" cy="9.4" rx="1.3" ry="1.0" fill="#8a8a8a" transform="rotate(107 2.1 9.4)"/><ellipse cx="7.5" cy="9.3" rx="1.4" ry="1.0" fill="#9a9a9a" transform="rotate(7 7.5 9.3)"/><ellipse cx="1.9" cy="5.3" rx="1.4" ry="0.6" fill="#9a9a9a" transform="rotate(175 1.9 5.3)"/><ellipse cx="7.6" cy="0.5" rx="1.2" ry="0.5" fill="#9a9a9a" transform="rotate(13 7.6 0.5)"/><ellipse cx="7.6" cy="12.5" rx="1.2" ry="0.5" fill="#9a9a9a" transform="rotate(13 7.6 12.5)"/><ellipse cx="1.3" cy="-0.4" rx="1.2" ry="0.8" fill="#a2a2a2" transform="rotate(106 1.3 -0.4)"/><ellipse cx="1.3" cy="11.6" rx="1.2" ry="0.8" fill="#a2a2a2" transform="rotate(106 1.3 11.6)"/><ellipse cx="13.3" cy="-0.4" rx="1.2" ry="0.8" fill="#a2a2a2" transform="rotate(106 13.3 -0.4)"/><ellipse cx="13.3" cy="11.6" rx="1.2" ry="0.8" fill="#a2a2a2" transform="rotate(106 13.3 11.6)"/><ellipse cx="4.2" cy="8.0" rx="0.7" ry="0.3" fill="#929292" transform="rotate(95 4.2 8.0)"/></pattern><pattern id="pbig" width="28" height="28" patternUnits="userSpaceOnUse"><rect width="28" height="28" fill="#3a3a3a"/><ellipse cx="6.3" cy="-1.1" rx="1.0" ry="0.8" fill="#767676" transform="rotate(21 6.3 -1.1)"/><ellipse cx="6.3" cy="26.9" rx="1.0" ry="0.8" fill="#767676" transform="rotate(21 6.3 26.9)"/><ellipse cx="6.9" cy="-0.0" rx="1.1" ry="0.8" fill="#b4b0aa" transform="rotate(117 6.9 -0.0)"/><ellipse cx="6.9" cy="28.0" rx="1.1" ry="0.8" fill="#b4b0aa" transform="rotate(117 6.9 28.0)"/><ellipse cx="12.7" cy="13.9" rx="1.0" ry="0.9" fill="#b4b0aa" transform="rotate(22 12.7 13.9)"/><ellipse cx="6.6" cy="0.6" rx="1.1" ry="0.7" fill="#9a9a9a" transform="rotate(97 6.6 0.6)"/><ellipse cx="6.6" cy="28.6" rx="1.1" ry="0.7" fill="#9a9a9a" transform="rotate(97 6.6 28.6)"/><ellipse cx="18.6" cy="2.7" rx="1.9" ry="1.2" fill="#9a9a9a" transform="rotate(96 18.6 2.7)"/><ellipse cx="18.5" cy="9.5" rx="1.7" ry="1.2" fill="#6e6e6e" transform="rotate(166 18.5 9.5)"/><ellipse cx="25.2" cy="16.3" rx="1.0" ry="0.5" fill="#b4b0aa" transform="rotate(9 25.2 16.3)"/><ellipse cx="19.7" cy="4.1" rx="1.9" ry="1.3" fill="#b4b0aa" transform="rotate(149 19.7 4.1)"/><ellipse cx="8.0" cy="10.0" rx="1.9" ry="1.0" fill="#9a9a9a" transform="rotate(153 8.0 10.0)"/><ellipse cx="14.9" cy="8.8" rx="1.3" ry="1.0" fill="#6e6e6e" transform="rotate(126 14.9 8.8)"/><ellipse cx="17.5" cy="8.6" rx="1.3" ry="0.7" fill="#9a9a9a" transform="rotate(168 17.5 8.6)"/><ellipse cx="22.6" cy="24.0" rx="2.0" ry="1.4" fill="#827c78" transform="rotate(88 22.6 24.0)"/><ellipse cx="25.4" cy="8.3" rx="1.1" ry="0.5" fill="#908680" transform="rotate(65 25.4 8.3)"/><ellipse cx="8.4" cy="19.8" rx="1.3" ry="1.0" fill="#767676" transform="rotate(29 8.4 19.8)"/><ellipse cx="-1.9" cy="23.9" rx="0.8" ry="0.8" fill="#ababab" transform="rotate(41 -1.9 23.9)"/><ellipse cx="26.1" cy="23.9" rx="0.8" ry="0.8" fill="#ababab" transform="rotate(41 26.1 23.9)"/><ellipse cx="3.3" cy="22.3" rx="1.3" ry="1.1" fill="#908680" transform="rotate(145 3.3 22.3)"/><ellipse cx="25.3" cy="3.9" rx="1.5" ry="1.0" fill="#c0c0c0" transform="rotate(20 25.3 3.9)"/><ellipse cx="2.0" cy="20.1" rx="0.8" ry="0.7" fill="#6e6e6e" transform="rotate(133 2.0 20.1)"/><ellipse cx="30.0" cy="20.1" rx="0.8" ry="0.7" fill="#6e6e6e" transform="rotate(133 30.0 20.1)"/><ellipse cx="10.1" cy="22.6" rx="1.5" ry="1.2" fill="#9a9a9a" transform="rotate(154 10.1 22.6)"/><ellipse cx="5.3" cy="25.6" rx="1.2" ry="1.0" fill="#ababab" transform="rotate(30 5.3 25.6)"/><ellipse cx="9.8" cy="-1.0" rx="0.8" ry="0.7" fill="#8a8a8a" transform="rotate(53 9.8 -1.0)"/><ellipse cx="9.8" cy="27.0" rx="0.8" ry="0.7" fill="#8a8a8a" transform="rotate(53 9.8 27.0)"/><ellipse cx="24.5" cy="0.9" rx="2.1" ry="1.7" fill="#767676" transform="rotate(148 24.5 0.9)"/><ellipse cx="24.5" cy="28.9" rx="2.1" ry="1.7" fill="#767676" transform="rotate(148 24.5 28.9)"/><ellipse cx="5.0" cy="-0.8" rx="1.4" ry="0.7" fill="#827c78" transform="rotate(154 5.0 -0.8)"/><ellipse cx="5.0" cy="27.2" rx="1.4" ry="0.7" fill="#827c78" transform="rotate(154 5.0 27.2)"/><ellipse cx="13.9" cy="13.2" rx="1.0" ry="0.5" fill="#b4b0aa" transform="rotate(148 13.9 13.2)"/><ellipse cx="18.1" cy="20.1" rx="1.5" ry="0.7" fill="#c0c0c0" transform="rotate(120 18.1 20.1)"/><ellipse cx="11.0" cy="10.1" rx="1.1" ry="0.6" fill="#9a9a9a" transform="rotate(114 11.0 10.1)"/><ellipse cx="3.0" cy="20.3" rx="1.7" ry="1.3" fill="#606060" transform="rotate(5 3.0 20.3)"/><ellipse cx="23.2" cy="14.8" rx="2.1" ry="1.7" fill="#6e6e6e" transform="rotate(153 23.2 14.8)"/><ellipse cx="22.9" cy="15.9" rx="1.5" ry="0.9" fill="#6e6e6e" transform="rotate(98 22.9 15.9)"/><ellipse cx="18.1" cy="0.2" rx="1.6" ry="1.4" fill="#908680" transform="rotate(82 18.1 0.2)"/><ellipse cx="18.1" cy="28.2" rx="1.6" ry="1.4" fill="#908680" transform="rotate(82 18.1 28.2)"/><ellipse cx="6.3" cy="8.3" rx="1.5" ry="1.4" fill="#606060" transform="rotate(94 6.3 8.3)"/><ellipse cx="14.5" cy="17.5" rx="2.0" ry="1.7" fill="#9a9a9a" transform="rotate(75 14.5 17.5)"/><ellipse cx="5.5" cy="10.4" rx="2.0" ry="1.8" fill="#827c78" transform="rotate(79 5.5 10.4)"/><ellipse cx="8.1" cy="17.2" rx="1.9" ry="1.5" fill="#606060" transform="rotate(176 8.1 17.2)"/><ellipse cx="23.0" cy="16.9" rx="1.3" ry="0.8" fill="#6e6e6e" transform="rotate(125 23.0 16.9)"/><ellipse cx="14.2" cy="2.3" rx="1.0" ry="0.7" fill="#908680" transform="rotate(69 14.2 2.3)"/><ellipse cx="21.8" cy="17.5" rx="1.9" ry="1.8" fill="#6e6e6e" transform="rotate(70 21.8 17.5)"/><ellipse cx="7.5" cy="-0.1" rx="1.6" ry="0.9" fill="#827c78" transform="rotate(62 7.5 -0.1)"/><ellipse cx="7.5" cy="27.9" rx="1.6" ry="0.9" fill="#827c78" transform="rotate(62 7.5 27.9)"/><ellipse cx="22.1" cy="20.9" rx="1.1" ry="1.0" fill="#6e6e6e" transform="rotate(152 22.1 20.9)"/><ellipse cx="23.2" cy="10.3" rx="1.8" ry="1.5" fill="#9a9a9a" transform="rotate(99 23.2 10.3)"/><ellipse cx="18.3" cy="21.8" rx="2.1" ry="1.9" fill="#8a8a8a" transform="rotate(35 18.3 21.8)"/><ellipse cx="17.1" cy="19.2" rx="0.9" ry="0.6" fill="#ababab" transform="rotate(171 17.1 19.2)"/><ellipse cx="-2.1" cy="2.6" rx="1.6" ry="1.4" fill="#9a9a9a" transform="rotate(167 -2.1 2.6)"/><ellipse cx="25.9" cy="2.6" rx="1.6" ry="1.4" fill="#9a9a9a" transform="rotate(167 25.9 2.6)"/><ellipse cx="9.0" cy="1.1" rx="2.0" ry="1.8" fill="#606060" transform="rotate(167 9.0 1.1)"/><ellipse cx="9.0" cy="29.1" rx="2.0" ry="1.8" fill="#606060" transform="rotate(167 9.0 29.1)"/><ellipse cx="-0.1" cy="2.1" rx="1.1" ry="0.5" fill="#827c78" transform="rotate(81 -0.1 2.1)"/><ellipse cx="-0.1" cy="30.1" rx="1.1" ry="0.5" fill="#827c78" transform="rotate(81 -0.1 30.1)"/><ellipse cx="27.9" cy="2.1" rx="1.1" ry="0.5" fill="#827c78" transform="rotate(81 27.9 2.1)"/><ellipse cx="27.9" cy="30.1" rx="1.1" ry="0.5" fill="#827c78" transform="rotate(81 27.9 30.1)"/><ellipse cx="8.3" cy="10.0" rx="1.2" ry="0.9" fill="#c0c0c0" transform="rotate(29 8.3 10.0)"/><ellipse cx="9.7" cy="4.5" rx="1.1" ry="0.7" fill="#9a9a9a" transform="rotate(110 9.7 4.5)"/><ellipse cx="2.8" cy="6.2" rx="1.2" ry="0.6" fill="#9a9a9a" transform="rotate(50 2.8 6.2)"/><ellipse cx="-1.5" cy="1.6" rx="1.8" ry="1.0" fill="#6e6e6e" transform="rotate(43 -1.5 1.6)"/><ellipse cx="-1.5" cy="29.6" rx="1.8" ry="1.0" fill="#6e6e6e" transform="rotate(43 -1.5 29.6)"/><ellipse cx="26.5" cy="1.6" rx="1.8" ry="1.0" fill="#6e6e6e" transform="rotate(43 26.5 1.6)"/><ellipse cx="26.5" cy="29.6" rx="1.8" ry="1.0" fill="#6e6e6e" transform="rotate(43 26.5 29.6)"/><ellipse cx="17.9" cy="8.3" rx="1.1" ry="0.8" fill="#c0c0c0" transform="rotate(28 17.9 8.3)"/><ellipse cx="20.1" cy="2.3" rx="1.0" ry="0.8" fill="#606060" transform="rotate(57 20.1 2.3)"/><ellipse cx="6.1" cy="4.9" rx="1.0" ry="0.7" fill="#b4b0aa" transform="rotate(177 6.1 4.9)"/><ellipse cx="16.4" cy="17.2" rx="1.3" ry="1.2" fill="#606060" transform="rotate(148 16.4 17.2)"/><ellipse cx="19.4" cy="-0.5" rx="1.4" ry="0.9" fill="#767676" transform="rotate(135 19.4 -0.5)"/><ellipse cx="19.4" cy="27.5" rx="1.4" ry="0.9" fill="#767676" transform="rotate(135 19.4 27.5)"/><ellipse cx="8.6" cy="19.0" rx="1.4" ry="0.7" fill="#b4b0aa" transform="rotate(70 8.6 19.0)"/><ellipse cx="17.8" cy="14.2" rx="1.8" ry="1.3" fill="#c0c0c0" transform="rotate(55 17.8 14.2)"/><ellipse cx="14.7" cy="21.5" rx="1.9" ry="1.4" fill="#ababab" transform="rotate(31 14.7 21.5)"/><ellipse cx="11.0" cy="1.0" rx="1.3" ry="1.2" fill="#908680" transform="rotate(88 11.0 1.0)"/><ellipse cx="11.0" cy="29.0" rx="1.3" ry="1.2" fill="#908680" transform="rotate(88 11.0 29.0)"/><ellipse cx="19.6" cy="17.4" rx="1.0" ry="0.8" fill="#767676" transform="rotate(20 19.6 17.4)"/><ellipse cx="12.6" cy="-1.5" rx="1.8" ry="1.6" fill="#c0c0c0" transform="rotate(144 12.6 -1.5)"/><ellipse cx="12.6" cy="26.5" rx="1.8" ry="1.6" fill="#c0c0c0" transform="rotate(144 12.6 26.5)"/><ellipse cx="-1.0" cy="3.0" rx="2.1" ry="1.0" fill="#606060" transform="rotate(153 -1.0 3.0)"/><ellipse cx="27.0" cy="3.0" rx="2.1" ry="1.0" fill="#606060" transform="rotate(153 27.0 3.0)"/><ellipse cx="-0.4" cy="10.0" rx="2.0" ry="1.6" fill="#767676" transform="rotate(122 -0.4 10.0)"/><ellipse cx="27.6" cy="10.0" rx="2.0" ry="1.6" fill="#767676" transform="rotate(122 27.6 10.0)"/><ellipse cx="18.1" cy="13.4" rx="1.5" ry="1.4" fill="#606060" transform="rotate(109 18.1 13.4)"/><ellipse cx="20.8" cy="18.8" rx="1.8" ry="1.6" fill="#606060" transform="rotate(169 20.8 18.8)"/><ellipse cx="1.7" cy="-1.1" rx="1.5" ry="1.0" fill="#6e6e6e" transform="rotate(121 1.7 -1.1)"/><ellipse cx="1.7" cy="26.9" rx="1.5" ry="1.0" fill="#6e6e6e" transform="rotate(121 1.7 26.9)"/><ellipse cx="29.7" cy="-1.1" rx="1.5" ry="1.0" fill="#6e6e6e" transform="rotate(121 29.7 -1.1)"/><ellipse cx="29.7" cy="26.9" rx="1.5" ry="1.0" fill="#6e6e6e" transform="rotate(121 29.7 26.9)"/><ellipse cx="4.8" cy="3.9" rx="1.1" ry="0.5" fill="#ababab" transform="rotate(112 4.8 3.9)"/><ellipse cx="16.4" cy="7.3" rx="1.9" ry="1.1" fill="#b4b0aa" transform="rotate(127 16.4 7.3)"/><ellipse cx="18.4" cy="2.5" rx="2.0" ry="1.3" fill="#c0c0c0" transform="rotate(34 18.4 2.5)"/><ellipse cx="-0.8" cy="3.0" rx="1.7" ry="1.4" fill="#b4b0aa" transform="rotate(92 -0.8 3.0)"/><ellipse cx="27.2" cy="3.0" rx="1.7" ry="1.4" fill="#b4b0aa" transform="rotate(92 27.2 3.0)"/><ellipse cx="16.0" cy="5.7" rx="1.5" ry="1.1" fill="#6e6e6e" transform="rotate(37 16.0 5.7)"/><ellipse cx="23.1" cy="2.5" rx="1.8" ry="1.5" fill="#767676" transform="rotate(55 23.1 2.5)"/><ellipse cx="17.8" cy="7.1" rx="1.9" ry="1.1" fill="#8a8a8a" transform="rotate(29 17.8 7.1)"/><ellipse cx="1.0" cy="20.1" rx="1.1" ry="0.7" fill="#8a8a8a" transform="rotate(1 1.0 20.1)"/><ellipse cx="29.0" cy="20.1" rx="1.1" ry="0.7" fill="#8a8a8a" transform="rotate(1 29.0 20.1)"/><ellipse cx="20.7" cy="16.1" rx="1.6" ry="0.7" fill="#606060" transform="rotate(54 20.7 16.1)"/><ellipse cx="8.9" cy="2.6" rx="1.1" ry="1.0" fill="#9a9a9a" transform="rotate(174 8.9 2.6)"/><ellipse cx="14.5" cy="5.7" rx="2.0" ry="1.6" fill="#9a9a9a" transform="rotate(107 14.5 5.7)"/><ellipse cx="11.9" cy="4.1" rx="1.0" ry="0.8" fill="#606060" transform="rotate(170 11.9 4.1)"/><ellipse cx="-1.8" cy="12.2" rx="0.9" ry="0.6" fill="#827c78" transform="rotate(169 -1.8 12.2)"/><ellipse cx="26.2" cy="12.2" rx="0.9" ry="0.6" fill="#827c78" transform="rotate(169 26.2 12.2)"/><ellipse cx="-0.3" cy="8.0" rx="1.8" ry="1.1" fill="#827c78" transform="rotate(41 -0.3 8.0)"/><ellipse cx="27.7" cy="8.0" rx="1.8" ry="1.1" fill="#827c78" transform="rotate(41 27.7 8.0)"/><ellipse cx="1.5" cy="23.2" rx="1.2" ry="0.7" fill="#c0c0c0" transform="rotate(70 1.5 23.2)"/><ellipse cx="29.5" cy="23.2" rx="1.2" ry="0.7" fill="#c0c0c0" transform="rotate(70 29.5 23.2)"/><ellipse cx="0.6" cy="22.3" rx="1.7" ry="1.4" fill="#827c78" transform="rotate(54 0.6 22.3)"/><ellipse cx="28.6" cy="22.3" rx="1.7" ry="1.4" fill="#827c78" transform="rotate(54 28.6 22.3)"/><ellipse cx="3.1" cy="21.6" rx="2.1" ry="1.9" fill="#767676" transform="rotate(126 3.1 21.6)"/><ellipse cx="20.0" cy="8.8" rx="1.6" ry="0.8" fill="#6e6e6e" transform="rotate(88 20.0 8.8)"/><ellipse cx="23.1" cy="15.4" rx="1.4" ry="1.0" fill="#606060" transform="rotate(156 23.1 15.4)"/><ellipse cx="17.3" cy="17.3" rx="1.4" ry="0.8" fill="#c0c0c0" transform="rotate(86 17.3 17.3)"/><ellipse cx="-1.5" cy="15.5" rx="2.0" ry="1.3" fill="#c0c0c0" transform="rotate(173 -1.5 15.5)"/><ellipse cx="26.5" cy="15.5" rx="2.0" ry="1.3" fill="#c0c0c0" transform="rotate(173 26.5 15.5)"/><ellipse cx="25.7" cy="9.5" rx="1.0" ry="0.8" fill="#b4b0aa" transform="rotate(18 25.7 9.5)"/><ellipse cx="9.1" cy="16.0" rx="1.7" ry="1.3" fill="#8a8a8a" transform="rotate(101 9.1 16.0)"/><ellipse cx="25.8" cy="11.2" rx="1.8" ry="0.9" fill="#b4b0aa" transform="rotate(98 25.8 11.2)"/><ellipse cx="11.5" cy="0.3" rx="1.2" ry="1.0" fill="#8a8a8a" transform="rotate(51 11.5 0.3)"/><ellipse cx="11.5" cy="28.3" rx="1.2" ry="1.0" fill="#8a8a8a" transform="rotate(51 11.5 28.3)"/><ellipse cx="21.1" cy="-1.5" rx="1.6" ry="1.1" fill="#b4b0aa" transform="rotate(95 21.1 -1.5)"/><ellipse cx="21.1" cy="26.5" rx="1.6" ry="1.1" fill="#b4b0aa" transform="rotate(95 21.1 26.5)"/><ellipse cx="24.5" cy="2.9" rx="1.0" ry="0.5" fill="#ababab" transform="rotate(113 24.5 2.9)"/><ellipse cx="2.3" cy="0.8" rx="1.1" ry="1.0" fill="#606060" transform="rotate(15 2.3 0.8)"/><ellipse cx="2.3" cy="28.8" rx="1.1" ry="1.0" fill="#606060" transform="rotate(15 2.3 28.8)"/><ellipse cx="9.7" cy="19.8" rx="2.0" ry="1.5" fill="#ababab" transform="rotate(125 9.7 19.8)"/><ellipse cx="17.6" cy="-0.8" rx="2.0" ry="1.4" fill="#c0c0c0" transform="rotate(119 17.6 -0.8)"/><ellipse cx="17.6" cy="27.2" rx="2.0" ry="1.4" fill="#c0c0c0" transform="rotate(119 17.6 27.2)"/><ellipse cx="21.3" cy="24.6" rx="1.5" ry="1.2" fill="#8a8a8a" transform="rotate(176 21.3 24.6)"/><ellipse cx="14.4" cy="14.2" rx="1.3" ry="0.9" fill="#767676" transform="rotate(121 14.4 14.2)"/><ellipse cx="-0.5" cy="16.1" rx="1.6" ry="1.4" fill="#606060" transform="rotate(43 -0.5 16.1)"/><ellipse cx="27.5" cy="16.1" rx="1.6" ry="1.4" fill="#606060" transform="rotate(43 27.5 16.1)"/><ellipse cx="20.6" cy="15.9" rx="2.0" ry="1.6" fill="#6e6e6e" transform="rotate(114 20.6 15.9)"/><ellipse cx="5.1" cy="4.5" rx="1.8" ry="1.6" fill="#606060" transform="rotate(91 5.1 4.5)"/><ellipse cx="14.8" cy="19.0" rx="1.6" ry="0.9" fill="#6e6e6e" transform="rotate(63 14.8 19.0)"/><ellipse cx="23.3" cy="-1.2" rx="1.4" ry="0.8" fill="#b4b0aa" transform="rotate(48 23.3 -1.2)"/><ellipse cx="23.3" cy="26.8" rx="1.4" ry="0.8" fill="#b4b0aa" transform="rotate(48 23.3 26.8)"/><ellipse cx="15.3" cy="18.2" rx="1.6" ry="1.0" fill="#908680" transform="rotate(46 15.3 18.2)"/><ellipse cx="2.8" cy="3.5" rx="1.0" ry="0.7" fill="#827c78" transform="rotate(145 2.8 3.5)"/><ellipse cx="19.8" cy="12.3" rx="1.8" ry="0.8" fill="#ababab" transform="rotate(89 19.8 12.3)"/><ellipse cx="3.3" cy="14.5" rx="1.5" ry="1.1" fill="#606060" transform="rotate(113 3.3 14.5)"/><ellipse cx="7.1" cy="25.4" rx="0.9" ry="0.8" fill="#c0c0c0" transform="rotate(108 7.1 25.4)"/><ellipse cx="12.6" cy="19.3" rx="1.0" ry="0.6" fill="#b4b0aa" transform="rotate(99 12.6 19.3)"/><ellipse cx="25.1" cy="18.8" rx="2.0" ry="1.3" fill="#908680" transform="rotate(28 25.1 18.8)"/><ellipse cx="13.2" cy="18.9" rx="1.3" ry="0.7" fill="#767676" transform="rotate(18 13.2 18.9)"/><ellipse cx="6.6" cy="5.6" rx="1.6" ry="1.4" fill="#827c78" transform="rotate(38 6.6 5.6)"/><ellipse cx="-1.2" cy="0.0" rx="2.0" ry="1.8" fill="#9a9a9a" transform="rotate(93 -1.2 0.0)"/><ellipse cx="-1.2" cy="28.0" rx="2.0" ry="1.8" fill="#9a9a9a" transform="rotate(93 -1.2 28.0)"/><ellipse cx="26.8" cy="0.0" rx="2.0" ry="1.8" fill="#9a9a9a" transform="rotate(93 26.8 0.0)"/><ellipse cx="26.8" cy="28.0" rx="2.0" ry="1.8" fill="#9a9a9a" transform="rotate(93 26.8 28.0)"/><ellipse cx="22.4" cy="14.1" rx="1.5" ry="1.3" fill="#767676" transform="rotate(76 22.4 14.1)"/><ellipse cx="6.1" cy="25.7" rx="1.6" ry="1.4" fill="#9a9a9a" transform="rotate(56 6.1 25.7)"/><ellipse cx="23.8" cy="4.5" rx="1.0" ry="0.6" fill="#908680" transform="rotate(139 23.8 4.5)"/><ellipse cx="2.5" cy="19.9" rx="2.0" ry="1.3" fill="#908680" transform="rotate(127 2.5 19.9)"/><ellipse cx="9.4" cy="20.5" rx="1.2" ry="1.1" fill="#9a9a9a" transform="rotate(148 9.4 20.5)"/><ellipse cx="0.6" cy="25.5" rx="1.3" ry="1.0" fill="#ababab" transform="rotate(3 0.6 25.5)"/><ellipse cx="28.6" cy="25.5" rx="1.3" ry="1.0" fill="#ababab" transform="rotate(3 28.6 25.5)"/><ellipse cx="-0.1" cy="19.7" rx="0.9" ry="0.7" fill="#9a9a9a" transform="rotate(159 -0.1 19.7)"/><ellipse cx="27.9" cy="19.7" rx="0.9" ry="0.7" fill="#9a9a9a" transform="rotate(159 27.9 19.7)"/><ellipse cx="15.3" cy="-1.7" rx="0.9" ry="0.4" fill="#606060" transform="rotate(25 15.3 -1.7)"/><ellipse cx="15.3" cy="26.3" rx="0.9" ry="0.4" fill="#606060" transform="rotate(25 15.3 26.3)"/><ellipse cx="3.8" cy="22.9" rx="1.3" ry="1.1" fill="#6e6e6e" transform="rotate(128 3.8 22.9)"/><ellipse cx="10.0" cy="2.3" rx="2.1" ry="1.8" fill="#6e6e6e" transform="rotate(48 10.0 2.3)"/><ellipse cx="6.7" cy="2.7" rx="2.0" ry="0.9" fill="#9a9a9a" transform="rotate(5 6.7 2.7)"/><ellipse cx="21.4" cy="8.9" rx="1.5" ry="0.8" fill="#606060" transform="rotate(14 21.4 8.9)"/><ellipse cx="24.8" cy="14.3" rx="1.8" ry="1.0" fill="#606060" transform="rotate(158 24.8 14.3)"/><ellipse cx="-0.7" cy="22.1" rx="2.1" ry="1.6" fill="#767676" transform="rotate(77 -0.7 22.1)"/><ellipse cx="27.3" cy="22.1" rx="2.1" ry="1.6" fill="#767676" transform="rotate(77 27.3 22.1)"/><ellipse cx="0.6" cy="7.6" rx="1.9" ry="1.3" fill="#c0c0c0" transform="rotate(159 0.6 7.6)"/><ellipse cx="28.6" cy="7.6" rx="1.9" ry="1.3" fill="#c0c0c0" transform="rotate(159 28.6 7.6)"/><ellipse cx="22.5" cy="8.3" rx="1.0" ry="0.9" fill="#827c78" transform="rotate(153 22.5 8.3)"/><ellipse cx="0.8" cy="19.5" rx="1.7" ry="1.4" fill="#606060" transform="rotate(33 0.8 19.5)"/><ellipse cx="28.8" cy="19.5" rx="1.7" ry="1.4" fill="#606060" transform="rotate(33 28.8 19.5)"/><ellipse cx="7.7" cy="20.3" rx="1.7" ry="1.0" fill="#767676" transform="rotate(77 7.7 20.3)"/><ellipse cx="10.2" cy="12.5" rx="1.6" ry="0.9" fill="#6e6e6e" transform="rotate(133 10.2 12.5)"/><ellipse cx="8.9" cy="2.4" rx="1.1" ry="0.8" fill="#8a8a8a" transform="rotate(171 8.9 2.4)"/><ellipse cx="24.3" cy="9.6" rx="1.5" ry="0.9" fill="#c0c0c0" transform="rotate(0 24.3 9.6)"/><ellipse cx="13.1" cy="11.2" rx="2.0" ry="1.8" fill="#c0c0c0" transform="rotate(179 13.1 11.2)"/><ellipse cx="14.9" cy="23.8" rx="1.7" ry="0.9" fill="#6e6e6e" transform="rotate(160 14.9 23.8)"/><ellipse cx="1.4" cy="9.4" rx="1.2" ry="1.1" fill="#908680" transform="rotate(56 1.4 9.4)"/><ellipse cx="29.4" cy="9.4" rx="1.2" ry="1.1" fill="#908680" transform="rotate(56 29.4 9.4)"/><ellipse cx="15.6" cy="-1.7" rx="1.4" ry="1.2" fill="#6e6e6e" transform="rotate(103 15.6 -1.7)"/><ellipse cx="15.6" cy="26.3" rx="1.4" ry="1.2" fill="#6e6e6e" transform="rotate(103 15.6 26.3)"/><ellipse cx="16.3" cy="24.3" rx="1.4" ry="1.2" fill="#908680" transform="rotate(24 16.3 24.3)"/><ellipse cx="14.8" cy="11.9" rx="1.9" ry="1.4" fill="#8a8a8a" transform="rotate(154 14.8 11.9)"/><ellipse cx="-1.3" cy="23.2" rx="1.8" ry="1.4" fill="#6e6e6e" transform="rotate(59 -1.3 23.2)"/><ellipse cx="26.7" cy="23.2" rx="1.8" ry="1.4" fill="#6e6e6e" transform="rotate(59 26.7 23.2)"/><ellipse cx="4.5" cy="11.6" rx="1.1" ry="0.8" fill="#8a8a8a" transform="rotate(128 4.5 11.6)"/><ellipse cx="24.1" cy="6.6" rx="1.3" ry="0.8" fill="#606060" transform="rotate(123 24.1 6.6)"/><ellipse cx="1.7" cy="17.4" rx="1.9" ry="1.7" fill="#767676" transform="rotate(91 1.7 17.4)"/><ellipse cx="29.7" cy="17.4" rx="1.9" ry="1.7" fill="#767676" transform="rotate(91 29.7 17.4)"/><ellipse cx="24.4" cy="4.5" rx="1.1" ry="0.9" fill="#908680" transform="rotate(171 24.4 4.5)"/><ellipse cx="16.0" cy="6.4" rx="2.0" ry="1.0" fill="#ababab" transform="rotate(169 16.0 6.4)"/><ellipse cx="8.2" cy="4.2" rx="1.4" ry="0.9" fill="#c0c0c0" transform="rotate(25 8.2 4.2)"/><ellipse cx="20.0" cy="14.8" rx="1.8" ry="1.4" fill="#767676" transform="rotate(148 20.0 14.8)"/><ellipse cx="18.4" cy="1.4" rx="0.9" ry="0.6" fill="#767676" transform="rotate(70 18.4 1.4)"/><ellipse cx="18.4" cy="29.4" rx="0.9" ry="0.6" fill="#767676" transform="rotate(70 18.4 29.4)"/><ellipse cx="22.0" cy="19.2" rx="2.0" ry="1.0" fill="#767676" transform="rotate(164 22.0 19.2)"/><ellipse cx="21.1" cy="0.2" rx="1.9" ry="1.3" fill="#908680" transform="rotate(94 21.1 0.2)"/><ellipse cx="21.1" cy="28.2" rx="1.9" ry="1.3" fill="#908680" transform="rotate(94 21.1 28.2)"/><ellipse cx="6.3" cy="1.6" rx="1.6" ry="1.1" fill="#6e6e6e" transform="rotate(76 6.3 1.6)"/><ellipse cx="6.3" cy="29.6" rx="1.6" ry="1.1" fill="#6e6e6e" transform="rotate(76 6.3 29.6)"/><ellipse cx="11.5" cy="7.5" rx="1.4" ry="0.7" fill="#827c78" transform="rotate(84 11.5 7.5)"/><ellipse cx="20.7" cy="11.3" rx="1.4" ry="0.8" fill="#ababab" transform="rotate(82 20.7 11.3)"/><ellipse cx="11.5" cy="0.1" rx="1.4" ry="1.2" fill="#827c78" transform="rotate(166 11.5 0.1)"/><ellipse cx="11.5" cy="28.1" rx="1.4" ry="1.2" fill="#827c78" transform="rotate(166 11.5 28.1)"/><ellipse cx="6.4" cy="2.9" rx="2.0" ry="1.0" fill="#c0c0c0" transform="rotate(157 6.4 2.9)"/><ellipse cx="16.7" cy="5.1" rx="1.4" ry="1.2" fill="#9a9a9a" transform="rotate(173 16.7 5.1)"/><ellipse cx="22.4" cy="15.5" rx="1.2" ry="0.9" fill="#9a9a9a" transform="rotate(89 22.4 15.5)"/><ellipse cx="7.6" cy="14.1" rx="1.2" ry="0.9" fill="#8a8a8a" transform="rotate(61 7.6 14.1)"/><ellipse cx="2.0" cy="12.3" rx="0.9" ry="0.4" fill="#ababab" transform="rotate(141 2.0 12.3)"/><ellipse cx="30.0" cy="12.3" rx="0.9" ry="0.4" fill="#ababab" transform="rotate(141 30.0 12.3)"/><ellipse cx="24.3" cy="20.3" rx="1.7" ry="0.9" fill="#908680" transform="rotate(80 24.3 20.3)"/><ellipse cx="19.2" cy="24.3" rx="1.8" ry="1.2" fill="#b4b0aa" transform="rotate(173 19.2 24.3)"/><ellipse cx="14.3" cy="23.2" rx="1.2" ry="0.8" fill="#ababab" transform="rotate(78 14.3 23.2)"/><ellipse cx="13.2" cy="0.0" rx="1.1" ry="0.7" fill="#6e6e6e" transform="rotate(161 13.2 0.0)"/><ellipse cx="13.2" cy="28.0" rx="1.1" ry="0.7" fill="#6e6e6e" transform="rotate(161 13.2 28.0)"/><ellipse cx="25.6" cy="1.4" rx="1.0" ry="0.9" fill="#c0c0c0" transform="rotate(27 25.6 1.4)"/><ellipse cx="25.6" cy="29.4" rx="1.0" ry="0.9" fill="#c0c0c0" transform="rotate(27 25.6 29.4)"/><ellipse cx="25.5" cy="14.7" rx="1.4" ry="0.8" fill="#6e6e6e" transform="rotate(73 25.5 14.7)"/><ellipse cx="24.4" cy="8.5" rx="1.0" ry="0.8" fill="#ababab" transform="rotate(89 24.4 8.5)"/><ellipse cx="8.2" cy="5.1" rx="1.3" ry="0.8" fill="#9a9a9a" transform="rotate(178 8.2 5.1)"/><ellipse cx="0.5" cy="-1.1" rx="1.7" ry="1.2" fill="#767676" transform="rotate(146 0.5 -1.1)"/><ellipse cx="0.5" cy="26.9" rx="1.7" ry="1.2" fill="#767676" transform="rotate(146 0.5 26.9)"/><ellipse cx="28.5" cy="-1.1" rx="1.7" ry="1.2" fill="#767676" transform="rotate(146 28.5 -1.1)"/><ellipse cx="28.5" cy="26.9" rx="1.7" ry="1.2" fill="#767676" transform="rotate(146 28.5 26.9)"/><ellipse cx="23.1" cy="24.4" rx="1.6" ry="0.9" fill="#b4b0aa" transform="rotate(66 23.1 24.4)"/><ellipse cx="12.6" cy="24.2" rx="2.0" ry="1.1" fill="#ababab" transform="rotate(97 12.6 24.2)"/><ellipse cx="11.4" cy="24.4" rx="2.0" ry="1.6" fill="#c0c0c0" transform="rotate(40 11.4 24.4)"/><ellipse cx="0.1" cy="19.4" rx="0.9" ry="0.5" fill="#9a9a9a" transform="rotate(115 0.1 19.4)"/><ellipse cx="28.1" cy="19.4" rx="0.9" ry="0.5" fill="#9a9a9a" transform="rotate(115 28.1 19.4)"/><ellipse cx="12.1" cy="2.6" rx="0.9" ry="0.7" fill="#908680" transform="rotate(47 12.1 2.6)"/><ellipse cx="9.1" cy="11.7" rx="0.9" ry="0.4" fill="#767676" transform="rotate(147 9.1 11.7)"/><ellipse cx="24.8" cy="17.8" rx="1.0" ry="0.8" fill="#ababab" transform="rotate(33 24.8 17.8)"/><ellipse cx="13.2" cy="21.0" rx="1.3" ry="0.8" fill="#c0c0c0" transform="rotate(81 13.2 21.0)"/><ellipse cx="8.1" cy="0.4" rx="1.7" ry="1.1" fill="#9a9a9a" transform="rotate(47 8.1 0.4)"/><ellipse cx="8.1" cy="28.4" rx="1.7" ry="1.1" fill="#9a9a9a" transform="rotate(47 8.1 28.4)"/><ellipse cx="8.7" cy="1.2" rx="1.4" ry="1.0" fill="#c0c0c0" transform="rotate(159 8.7 1.2)"/><ellipse cx="8.7" cy="29.2" rx="1.4" ry="1.0" fill="#c0c0c0" transform="rotate(159 8.7 29.2)"/><ellipse cx="12.5" cy="-0.3" rx="1.0" ry="0.5" fill="#908680" transform="rotate(143 12.5 -0.3)"/><ellipse cx="12.5" cy="27.7" rx="1.0" ry="0.5" fill="#908680" transform="rotate(143 12.5 27.7)"/><ellipse cx="8.8" cy="1.2" rx="1.2" ry="0.6" fill="#908680" transform="rotate(177 8.8 1.2)"/><ellipse cx="8.8" cy="29.2" rx="1.2" ry="0.6" fill="#908680" transform="rotate(177 8.8 29.2)"/><ellipse cx="-1.8" cy="21.4" rx="1.9" ry="1.6" fill="#c0c0c0" transform="rotate(20 -1.8 21.4)"/><ellipse cx="26.2" cy="21.4" rx="1.9" ry="1.6" fill="#c0c0c0" transform="rotate(20 26.2 21.4)"/><ellipse cx="5.8" cy="-0.0" rx="0.8" ry="0.4" fill="#827c78" transform="rotate(142 5.8 -0.0)"/><ellipse cx="5.8" cy="28.0" rx="0.8" ry="0.4" fill="#827c78" transform="rotate(142 5.8 28.0)"/><ellipse cx="18.5" cy="-1.4" rx="2.0" ry="1.4" fill="#c0c0c0" transform="rotate(88 18.5 -1.4)"/><ellipse cx="18.5" cy="26.6" rx="2.0" ry="1.4" fill="#c0c0c0" transform="rotate(88 18.5 26.6)"/><ellipse cx="8.5" cy="5.8" rx="1.3" ry="0.9" fill="#8a8a8a" transform="rotate(76 8.5 5.8)"/><ellipse cx="11.4" cy="-1.6" rx="1.3" ry="0.7" fill="#9a9a9a" transform="rotate(112 11.4 -1.6)"/><ellipse cx="11.4" cy="26.4" rx="1.3" ry="0.7" fill="#9a9a9a" transform="rotate(112 11.4 26.4)"/><ellipse cx="1.2" cy="13.1" rx="2.1" ry="1.5" fill="#827c78" transform="rotate(81 1.2 13.1)"/><ellipse cx="29.2" cy="13.1" rx="2.1" ry="1.5" fill="#827c78" transform="rotate(81 29.2 13.1)"/><ellipse cx="9.3" cy="19.4" rx="1.0" ry="0.9" fill="#767676" transform="rotate(177 9.3 19.4)"/><ellipse cx="2.3" cy="14.6" rx="1.8" ry="0.9" fill="#8a8a8a" transform="rotate(159 2.3 14.6)"/><ellipse cx="9.8" cy="1.2" rx="1.4" ry="1.1" fill="#767676" transform="rotate(97 9.8 1.2)"/><ellipse cx="9.8" cy="29.2" rx="1.4" ry="1.1" fill="#767676" transform="rotate(97 9.8 29.2)"/><ellipse cx="22.7" cy="15.7" rx="1.8" ry="1.1" fill="#6e6e6e" transform="rotate(10 22.7 15.7)"/><ellipse cx="9.4" cy="5.7" rx="1.4" ry="0.9" fill="#767676" transform="rotate(41 9.4 5.7)"/><ellipse cx="16.4" cy="16.7" rx="1.6" ry="1.5" fill="#827c78" transform="rotate(126 16.4 16.7)"/><ellipse cx="15.5" cy="18.9" rx="1.3" ry="0.6" fill="#606060" transform="rotate(153 15.5 18.9)"/><ellipse cx="25.3" cy="10.0" rx="0.9" ry="0.7" fill="#9a9a9a" transform="rotate(143 25.3 10.0)"/><ellipse cx="20.8" cy="12.0" rx="1.7" ry="1.0" fill="#767676" transform="rotate(174 20.8 12.0)"/><ellipse cx="3.9" cy="4.9" rx="1.0" ry="0.6" fill="#6e6e6e" transform="rotate(1 3.9 4.9)"/><ellipse cx="1.2" cy="13.8" rx="1.0" ry="0.7" fill="#9a9a9a" transform="rotate(3 1.2 13.8)"/><ellipse cx="29.2" cy="13.8" rx="1.0" ry="0.7" fill="#9a9a9a" transform="rotate(3 29.2 13.8)"/><ellipse cx="12.7" cy="4.9" rx="1.3" ry="0.8" fill="#908680" transform="rotate(123 12.7 4.9)"/><ellipse cx="23.2" cy="17.4" rx="1.2" ry="1.1" fill="#767676" transform="rotate(121 23.2 17.4)"/><ellipse cx="10.0" cy="-1.0" rx="1.9" ry="1.2" fill="#8a8a8a" transform="rotate(35 10.0 -1.0)"/><ellipse cx="10.0" cy="27.0" rx="1.9" ry="1.2" fill="#8a8a8a" transform="rotate(35 10.0 27.0)"/><ellipse cx="24.7" cy="22.5" rx="2.0" ry="1.3" fill="#908680" transform="rotate(59 24.7 22.5)"/><ellipse cx="14.6" cy="14.8" rx="1.8" ry="0.9" fill="#9a9a9a" transform="rotate(137 14.6 14.8)"/><ellipse cx="8.1" cy="16.9" rx="0.9" ry="0.8" fill="#b4b0aa" transform="rotate(137 8.1 16.9)"/><ellipse cx="5.7" cy="1.4" rx="1.5" ry="1.3" fill="#827c78" transform="rotate(61 5.7 1.4)"/><ellipse cx="5.7" cy="29.4" rx="1.5" ry="1.3" fill="#827c78" transform="rotate(61 5.7 29.4)"/><ellipse cx="17.0" cy="14.4" rx="2.1" ry="1.3" fill="#767676" transform="rotate(179 17.0 14.4)"/><ellipse cx="10.6" cy="9.8" rx="1.5" ry="1.4" fill="#908680" transform="rotate(24 10.6 9.8)"/><ellipse cx="6.1" cy="16.9" rx="2.1" ry="1.2" fill="#ababab" transform="rotate(173 6.1 16.9)"/><ellipse cx="-1.1" cy="20.6" rx="1.3" ry="1.0" fill="#908680" transform="rotate(40 -1.1 20.6)"/><ellipse cx="26.9" cy="20.6" rx="1.3" ry="1.0" fill="#908680" transform="rotate(40 26.9 20.6)"/><ellipse cx="12.2" cy="3.0" rx="2.1" ry="1.6" fill="#6e6e6e" transform="rotate(65 12.2 3.0)"/><ellipse cx="18.1" cy="13.9" rx="1.7" ry="1.4" fill="#827c78" transform="rotate(159 18.1 13.9)"/></pattern>
</defs>
<use href="#scr" x="45" y="72" width="72.5" height="29"/>
<use href="#scr" x="45" y="103" width="72.5" height="29"/>
<use href="#scr" x="198" y="70" width="72.5" height="28.5"/>
<use href="#scr" x="198" y="103.5" width="72.5" height="29"/>
<use href="#scr" x="343.6" y="306.3" width="51.6" height="20"/>
<use href="#scr" x="341.3" y="367.4" width="51.3" height="21.6"/>
<use href="#cru" x="436" y="76" width="50" height="50"/>
<use href="#cru" x="347.4" y="226.6" width="36.5" height="36.5"/>
<use href="#fed" x="497" y="84" width="58" height="38"/>
<clipPath id="mc"><rect x="563.9" y="95.2" width="31.2" height="18.2"/></clipPath><g clip-path="url(#mc)"><rect x="563.9" y="95.2" width="31.2" height="18.2" fill="#bfa07a"/><ellipse cx="577.8" cy="105.8" rx="2.5" ry="1.9" fill="#2a2018"/><ellipse cx="591.9" cy="98.0" rx="2.3" ry="1.8" fill="#c89860"/><ellipse cx="589.8" cy="96.0" rx="1.5" ry="0.9" fill="#1a1410"/><ellipse cx="582.8" cy="102.3" rx="1.7" ry="1.5" fill="#1a1410"/><ellipse cx="583.8" cy="111.5" rx="1.1" ry="0.7" fill="#120e0c"/><ellipse cx="583.0" cy="110.3" rx="1.5" ry="1.3" fill="#120e0c"/><ellipse cx="580.2" cy="107.4" rx="1.8" ry="1.6" fill="#f0e8dc"/><ellipse cx="584.9" cy="102.5" rx="1.9" ry="1.8" fill="#221a14"/><ellipse cx="586.8" cy="100.6" rx="1.4" ry="1.0" fill="#221a14"/><ellipse cx="581.7" cy="96.3" rx="1.2" ry="0.8" fill="#221a14"/><ellipse cx="595.5" cy="111.8" rx="1.0" ry="0.7" fill="#1a1410"/><ellipse cx="578.4" cy="114.6" rx="1.6" ry="1.0" fill="#120e0c"/><ellipse cx="589.2" cy="99.7" rx="1.1" ry="0.8" fill="#9a7a58"/><ellipse cx="588.5" cy="96.5" rx="1.4" ry="0.9" fill="#1a1410"/><ellipse cx="578.3" cy="104.2" rx="2.1" ry="1.4" fill="#2a2018"/><ellipse cx="568.7" cy="109.4" rx="1.2" ry="1.0" fill="#221a14"/><ellipse cx="575.8" cy="114.8" rx="1.0" ry="0.9" fill="#c89860"/><ellipse cx="572.6" cy="112.6" rx="1.3" ry="1.0" fill="#c89860"/><ellipse cx="584.5" cy="96.1" rx="2.6" ry="1.8" fill="#e6d8c4"/><ellipse cx="562.3" cy="106.8" rx="2.3" ry="1.8" fill="#221a14"/><ellipse cx="565.2" cy="106.2" rx="1.4" ry="1.2" fill="#d8b890"/><ellipse cx="583.8" cy="96.7" rx="1.9" ry="1.8" fill="#1a1410"/><ellipse cx="592.3" cy="97.8" rx="1.2" ry="1.2" fill="#c89860"/><ellipse cx="570.7" cy="98.0" rx="2.2" ry="2.1" fill="#120e0c"/><ellipse cx="586.0" cy="102.2" rx="1.8" ry="1.1" fill="#1a1410"/><ellipse cx="565.6" cy="94.8" rx="2.5" ry="1.8" fill="#9a7a58"/><ellipse cx="571.0" cy="111.3" rx="2.0" ry="1.4" fill="#1a1410"/><ellipse cx="594.5" cy="114.5" rx="1.2" ry="1.0" fill="#c89860"/><ellipse cx="583.5" cy="99.9" rx="2.5" ry="1.7" fill="#1a1410"/><ellipse cx="564.4" cy="102.6" rx="1.4" ry="0.9" fill="#e6d8c4"/><ellipse cx="574.9" cy="106.0" rx="1.2" ry="0.9" fill="#f0e8dc"/><ellipse cx="596.3" cy="107.8" rx="2.1" ry="1.8" fill="#1a1410"/><ellipse cx="582.6" cy="113.4" rx="1.8" ry="1.3" fill="#e6d8c4"/><ellipse cx="595.7" cy="94.4" rx="2.0" ry="1.6" fill="#e6d8c4"/><ellipse cx="573.2" cy="115.0" rx="1.1" ry="0.9" fill="#1a1410"/><ellipse cx="593.5" cy="109.5" rx="2.1" ry="2.0" fill="#d8b890"/><ellipse cx="574.3" cy="108.4" rx="2.4" ry="2.3" fill="#9a7a58"/><ellipse cx="595.0" cy="94.6" rx="1.8" ry="1.1" fill="#9a7a58"/><ellipse cx="575.3" cy="94.3" rx="1.1" ry="0.7" fill="#221a14"/><ellipse cx="596.8" cy="112.5" rx="2.2" ry="1.6" fill="#c89860"/><ellipse cx="578.0" cy="103.7" rx="1.9" ry="1.5" fill="#2a2018"/><ellipse cx="563.0" cy="106.6" rx="1.8" ry="1.2" fill="#221a14"/><ellipse cx="579.4" cy="106.9" rx="2.5" ry="1.7" fill="#1a1410"/><ellipse cx="574.9" cy="97.0" rx="2.0" ry="1.6" fill="#d8b890"/><ellipse cx="585.1" cy="103.3" rx="2.4" ry="1.8" fill="#e6d8c4"/><ellipse cx="568.9" cy="103.0" rx="2.3" ry="2.2" fill="#120e0c"/><ellipse cx="575.5" cy="106.2" rx="1.5" ry="1.0" fill="#f0e8dc"/><ellipse cx="574.3" cy="112.8" rx="1.1" ry="0.7" fill="#e6d8c4"/><ellipse cx="590.8" cy="96.4" rx="1.8" ry="1.7" fill="#9a7a58"/><ellipse cx="575.4" cy="104.9" rx="2.1" ry="1.8" fill="#c89860"/><ellipse cx="577.8" cy="95.6" rx="1.1" ry="1.0" fill="#1a1410"/><ellipse cx="585.7" cy="99.9" rx="1.6" ry="1.3" fill="#c89860"/><ellipse cx="562.7" cy="96.9" rx="1.7" ry="1.1" fill="#e6d8c4"/><ellipse cx="570.3" cy="97.0" rx="1.1" ry="0.9" fill="#f0e8dc"/><ellipse cx="565.8" cy="105.2" rx="2.0" ry="1.5" fill="#221a14"/><ellipse cx="586.0" cy="98.2" rx="1.8" ry="1.2" fill="#1a1410"/><ellipse cx="588.4" cy="105.2" rx="1.1" ry="0.7" fill="#d8b890"/><ellipse cx="580.9" cy="113.9" rx="1.8" ry="1.8" fill="#1a1410"/><ellipse cx="575.8" cy="110.6" rx="2.4" ry="1.6" fill="#9a7a58"/><ellipse cx="566.5" cy="103.5" rx="2.0" ry="1.9" fill="#9a7a58"/><ellipse cx="581.3" cy="107.7" rx="1.8" ry="1.7" fill="#d8b890"/><ellipse cx="578.2" cy="107.7" rx="1.3" ry="1.2" fill="#221a14"/><ellipse cx="569.5" cy="112.9" rx="2.6" ry="2.5" fill="#2a2018"/><ellipse cx="596.2" cy="113.6" rx="1.4" ry="1.3" fill="#1a1410"/><ellipse cx="574.2" cy="95.7" rx="1.7" ry="1.4" fill="#e6d8c4"/><ellipse cx="579.1" cy="94.6" rx="2.3" ry="1.4" fill="#1a1410"/><ellipse cx="568.1" cy="101.0" rx="2.3" ry="1.5" fill="#1a1410"/><ellipse cx="597.0" cy="112.9" rx="1.8" ry="1.6" fill="#f0e8dc"/><ellipse cx="595.1" cy="104.3" rx="2.5" ry="1.6" fill="#120e0c"/><ellipse cx="577.4" cy="105.7" rx="2.3" ry="1.9" fill="#1a1410"/><ellipse cx="580.3" cy="111.7" rx="1.9" ry="1.4" fill="#9a7a58"/><ellipse cx="595.4" cy="112.3" rx="2.0" ry="1.4" fill="#1a1410"/><ellipse cx="595.9" cy="105.0" rx="1.9" ry="1.3" fill="#2a2018"/><ellipse cx="566.0" cy="94.1" rx="1.6" ry="1.3" fill="#1a1410"/><ellipse cx="580.1" cy="102.4" rx="2.3" ry="1.9" fill="#f0e8dc"/><ellipse cx="565.3" cy="97.5" rx="2.5" ry="2.0" fill="#9a7a58"/><ellipse cx="571.4" cy="103.9" rx="1.2" ry="0.9" fill="#f0e8dc"/><ellipse cx="580.4" cy="96.3" rx="1.7" ry="1.0" fill="#e6d8c4"/><ellipse cx="566.5" cy="110.4" rx="1.0" ry="0.7" fill="#120e0c"/><ellipse cx="562.4" cy="100.0" rx="2.2" ry="1.5" fill="#f0e8dc"/><ellipse cx="565.7" cy="109.3" rx="1.2" ry="1.0" fill="#e6d8c4"/><ellipse cx="587.1" cy="108.7" rx="2.4" ry="1.5" fill="#9a7a58"/><ellipse cx="590.9" cy="106.9" rx="1.9" ry="1.8" fill="#2a2018"/><ellipse cx="584.3" cy="105.1" rx="2.4" ry="2.0" fill="#1a1410"/><ellipse cx="570.1" cy="109.6" rx="2.3" ry="2.2" fill="#d8b890"/><ellipse cx="583.1" cy="112.7" rx="1.3" ry="1.2" fill="#120e0c"/><ellipse cx="593.1" cy="96.8" rx="1.4" ry="1.2" fill="#e6d8c4"/><ellipse cx="575.6" cy="103.1" rx="2.5" ry="2.0" fill="#1a1410"/><ellipse cx="569.0" cy="107.2" rx="2.3" ry="1.5" fill="#c89860"/><ellipse cx="585.9" cy="113.1" rx="2.5" ry="1.6" fill="#2a2018"/><ellipse cx="584.2" cy="101.2" rx="2.6" ry="2.4" fill="#221a14"/><ellipse cx="578.9" cy="94.5" rx="2.2" ry="1.9" fill="#c89860"/><ellipse cx="578.8" cy="98.0" rx="1.2" ry="0.8" fill="#1a1410"/><ellipse cx="596.7" cy="113.5" rx="1.2" ry="0.7" fill="#f0e8dc"/><ellipse cx="564.7" cy="96.0" rx="1.6" ry="1.3" fill="#d8b890"/><ellipse cx="577.1" cy="106.6" rx="1.0" ry="0.9" fill="#120e0c"/><ellipse cx="568.3" cy="103.5" rx="2.2" ry="1.7" fill="#120e0c"/><ellipse cx="583.2" cy="96.0" rx="2.3" ry="1.7" fill="#221a14"/><ellipse cx="590.1" cy="108.8" rx="2.4" ry="2.0" fill="#9a7a58"/><ellipse cx="581.9" cy="98.0" rx="1.9" ry="1.4" fill="#e6d8c4"/><ellipse cx="571.8" cy="96.4" rx="2.2" ry="1.5" fill="#9a7a58"/><ellipse cx="566.7" cy="100.9" rx="1.9" ry="1.4" fill="#9a7a58"/><ellipse cx="588.8" cy="102.5" rx="2.2" ry="1.4" fill="#d8b890"/><ellipse cx="572.6" cy="96.1" rx="2.4" ry="2.4" fill="#c89860"/><ellipse cx="563.7" cy="99.7" rx="2.5" ry="1.8" fill="#120e0c"/><ellipse cx="585.1" cy="106.0" rx="1.9" ry="1.4" fill="#f0e8dc"/><ellipse cx="584.5" cy="108.7" rx="2.2" ry="2.2" fill="#1a1410"/><ellipse cx="566.0" cy="96.3" rx="1.4" ry="1.1" fill="#2a2018"/><ellipse cx="563.8" cy="98.1" rx="1.6" ry="1.0" fill="#e6d8c4"/><ellipse cx="571.6" cy="101.2" rx="1.9" ry="1.4" fill="#2a2018"/></g>
<path d="M45.3,201L60.4,226.6L30.8,226.6Z" fill="url(#pg1)"/><path d="M109.5,201L125,226.6L95.4,226.6Z" fill="url(#pg1)"/><path d="M208.4,200.4L224,226.6L194.4,226.6Z" fill="url(#pg3)"/><path d="M266.2,200.5L282.8,226.8L252.4,226.8Z" fill="url(#pg4)"/><path d="M273.8,284.5L288.4,309.8L259.3,309.8Z" fill="url(#pg5)"/><path d="M273.8,337.3L288.4,362.3L259.3,362.3Z" fill="url(#pg5)"/><path d="M273.8,381L288.4,405.8L259.3,405.8Z" fill="url(#pg5)"/><path d="M361.3,108L397,169.4L326.4,169.4Z" fill="url(#pbig)"/>
<g>
<line x1="190.5" y1="97.5" x2="122.0" y2="97.5"/><path class="ah" d="M116.8,97.5L123.8,94.1L122.0,97.5L123.8,100.9Z"/>
<line x1="426.0" y1="97.5" x2="294.0" y2="97.5"/><path class="ah" d="M281.0,97.5L295.7,94.0L294.0,97.5L295.7,101.0Z"/>
<line x1="285.0" y1="116.5" x2="331.3" y2="145.2"/><path class="ah" d="M334.7,147.3L327.8,147.4L331.3,145.2L331.7,141.1Z"/>
<line x1="389.5" y1="150.4" x2="426.5" y2="119.5"/><path class="ah" d="M429.0,117.4L427.5,123.4L426.5,119.5L422.9,117.8Z"/>
<line x1="69.3" y1="131.5" x2="53.5" y2="196.5"/><path class="ah" d="M52.2,201.8L50.2,193.1L53.5,196.5L58.0,195.0Z"/>
<line x1="93.4" y1="131.5" x2="104.8" y2="196.6"/><path class="ah" d="M105.8,202.0L100.5,194.8L104.8,196.6L108.4,193.4Z"/>
<line x1="228.0" y1="131.5" x2="215.3" y2="196.6"/><path class="ah" d="M214.3,202.0L211.9,193.4L215.3,196.6L219.8,194.9Z"/>
<line x1="249.8" y1="131.5" x2="264.0" y2="196.6"/><path class="ah" d="M265.2,202.0L259.6,195.0L264.0,196.6L267.4,193.3Z"/>
<line x1="363.2" y1="190.0" x2="363.2" y2="225.0"/><path class="ah" d="M363.2,227.8L359.8,223.6L363.2,225.0L366.6,223.6Z"/>
<line x1="363.2" y1="264.3" x2="363.2" y2="303.4"/><path class="ah" d="M363.2,306.2L359.8,302.0L363.2,303.4L366.6,302.0Z"/>
<line x1="363.2" y1="327.8" x2="363.2" y2="364.6"/><path class="ah" d="M363.2,367.4L359.8,363.2L363.2,364.6L366.6,363.2Z"/>
<line x1="339.0" y1="312.0" x2="304.4" y2="303.8"/><path class="ah" d="M301.3,303.1L306.4,301.1L304.4,303.8L305.0,307.2Z"/>
<line x1="339.0" y1="369.0" x2="304.4" y2="361.3"/><path class="ah" d="M301.3,360.6L306.4,358.6L304.4,361.3L305.0,364.6Z"/>
<line x1="339.0" y1="382.3" x2="304.4" y2="389.9"/><path class="ah" d="M301.3,390.6L305.0,386.6L304.4,389.9L306.4,392.7Z"/>
</g>
</svg>
<div class="t big" style="left:55px;top:295px;">时产<span style="font-size:22.5px;line-height:0;letter-spacing:0.8px">1000</span>吨</div>
<div class="t big" style="left:21px;top:327px;">碎石生产线配置设备</div>
<div class="t big" style="left:69px;top:373px;">中誉鼎力</div>
<div class="t" style="left:563.5px;top:47.5px;font-size:14px;letter-spacing:0.5px;-webkit-text-stroke:0.3px #111;">料仓</div>
<div class="t lb" style="left:344px;top:171.5px;font-weight:bold;font-size:9.8px;">中转仓</div>
<div class="t lb bb" style="left:26.5px;top:233px;"><b>普料</b>0-5</div>
<div class="t lb bb" style="left:90.5px;top:233px;"><b>普料</b>5-14</div>
<div class="t lb bb" style="left:188px;top:233px;"><b>普料</b>14-25</div>
<div class="t lb bb" style="left:246.5px;top:233px;"><b>普料</b>25-31</div>
<div class="t lb" style="left:228.8px;top:312.3px;"><b>高品料</b>10-16.5</div>
<div class="t lb" style="left:242.5px;top:364.2px;"><b>高品料</b>5-10</div>
<div class="t lb" style="left:248.5px;top:409.2px;"><b>高品料</b>0-5</div>
<div class="t lb bb" style="left:292px;top:125px;transform:rotate(32deg);transform-origin:0 0;font-size:10.5px;"><b style="font-size:9.8px;letter-spacing:-0.3px">大于</b><i style="font-style:italic;font-size:9.5px;letter-spacing:-0.3px">31</i><i style="font-style:normal;font-size:7.5px;letter-spacing:-0.3px">mm</i></div>
</body></html>
